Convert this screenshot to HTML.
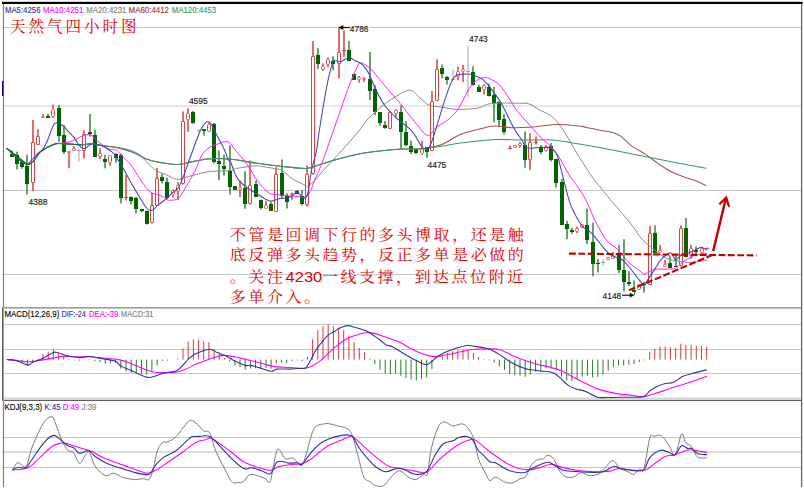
<!DOCTYPE html>
<html><head><meta charset="utf-8"><title>天然气四小时图</title>
<style>html,body{margin:0;padding:0;background:#fff;width:804px;height:489px;overflow:hidden}svg{display:block}</style>
</head><body>
<svg width="804" height="489" viewBox="0 0 804 489"><rect x="0" y="0" width="804" height="489" fill="#fff"/>
<line x1="2" y1="106" x2="801" y2="106" stroke="#cfcfcf" stroke-width="1"/>
<line x1="2" y1="27.5" x2="801" y2="27.5" stroke="#c6c6c6" stroke-width="1"/>
<line x1="2" y1="190.5" x2="801" y2="190.5" stroke="#c6c6c6" stroke-width="1"/>
<line x1="2" y1="274.5" x2="801" y2="274.5" stroke="#c6c6c6" stroke-width="1"/>
<line x1="2" y1="324.5" x2="801" y2="324.5" stroke="#c6c6c6" stroke-width="1"/>
<line x1="2" y1="349.5" x2="801" y2="349.5" stroke="#c6c6c6" stroke-width="1"/>
<line x1="2" y1="373.5" x2="801" y2="373.5" stroke="#c6c6c6" stroke-width="1"/>
<line x1="2" y1="398.3" x2="801" y2="398.3" stroke="#d6d6d6" stroke-width="1.6"/>
<line x1="2" y1="437.5" x2="801" y2="437.5" stroke="#c6c6c6" stroke-width="1"/>
<line x1="2" y1="452" x2="801" y2="452" stroke="#d0d0d0" stroke-width="1.7"/>
<line x1="2" y1="467.5" x2="801" y2="467.5" stroke="#c6c6c6" stroke-width="1"/>
<line x1="2.2" y1="307.8" x2="801.5" y2="307.8" stroke="#808080" stroke-width="1.3"/>
<line x1="2.2" y1="400.3" x2="801.5" y2="400.3" stroke="#5e5e5e" stroke-width="1.3"/>
<line x1="3.5" y1="3" x2="3.5" y2="487" stroke="#808080" stroke-width="1.2"/>
<line x1="801.6" y1="3" x2="801.6" y2="487" stroke="#6a6a6a" stroke-width="1.3"/>
<rect x="2" y="1.8" width="800.5" height="2.2" fill="#000"/>
<rect x="2" y="81" width="1.3" height="15" fill="#000080"/>
<rect x="2" y="307.2" width="1.6" height="93.6" fill="#fff"/>
<line x1="2.7" y1="307.3" x2="2.7" y2="400.8" stroke="#4a4a4a" stroke-width="1.2"/>
<line x1="12" y1="150.4" x2="12" y2="154" stroke="#1c6f1c" stroke-width="1.3"/>
<rect x="10" y="154" width="4" height="3" fill="#006400"/>
<line x1="17" y1="151.7" x2="17" y2="155" stroke="#1c6f1c" stroke-width="1.3"/>
<line x1="17" y1="164" x2="17" y2="169.4" stroke="#1c6f1c" stroke-width="1.3"/>
<rect x="15" y="155" width="4" height="9" fill="#006400"/>
<line x1="22" y1="161.5" x2="22" y2="162" stroke="#1c6f1c" stroke-width="1.3"/>
<line x1="22" y1="167" x2="22" y2="168.8" stroke="#1c6f1c" stroke-width="1.3"/>
<rect x="20" y="162" width="4" height="5" fill="#006400"/>
<line x1="27" y1="154.7" x2="27" y2="166" stroke="#1c6f1c" stroke-width="1.3"/>
<line x1="27" y1="184" x2="27" y2="194.6" stroke="#1c6f1c" stroke-width="1.3"/>
<rect x="25" y="166" width="4" height="18" fill="#006400"/>
<line x1="33" y1="120" x2="33" y2="142" stroke="#d42020" stroke-width="1.3"/>
<line x1="33" y1="183" x2="33" y2="191" stroke="#d42020" stroke-width="1.3"/>
<rect x="31.5" y="142.5" width="3" height="40" rx="0.5" fill="none" stroke="#e04040" stroke-width="1"/>
<line x1="38" y1="129.2" x2="38" y2="136" stroke="#d42020" stroke-width="1.3"/>
<rect x="36.5" y="136.5" width="3" height="8" rx="0.5" fill="none" stroke="#e04040" stroke-width="1"/>
<line x1="43" y1="114.3" x2="43" y2="116" stroke="#d42020" stroke-width="1.3"/>
<rect x="41.5" y="116.5" width="3" height="1" rx="1" fill="none" stroke="#e04040" stroke-width="1"/>
<line x1="48" y1="113.8" x2="48" y2="116" stroke="#1c6f1c" stroke-width="1.3"/>
<rect x="46" y="116" width="4" height="2" fill="#006400"/>
<line x1="53" y1="104.6" x2="53" y2="109" stroke="#d42020" stroke-width="1.3"/>
<line x1="53" y1="117" x2="53" y2="118" stroke="#d42020" stroke-width="1.3"/>
<rect x="51.5" y="109.5" width="3" height="7" rx="1" fill="none" stroke="#e04040" stroke-width="1"/>
<line x1="59" y1="105.1" x2="59" y2="108" stroke="#1c6f1c" stroke-width="1.3"/>
<line x1="59" y1="136" x2="59" y2="142" stroke="#1c6f1c" stroke-width="1.3"/>
<rect x="57" y="108" width="4" height="28" fill="#006400"/>
<line x1="64" y1="125.1" x2="64" y2="135" stroke="#1c6f1c" stroke-width="1.3"/>
<line x1="64" y1="152" x2="64" y2="154" stroke="#1c6f1c" stroke-width="1.3"/>
<rect x="62" y="135" width="4" height="17" fill="#006400"/>
<line x1="69" y1="153" x2="69" y2="168.2" stroke="#d42020" stroke-width="1.3"/>
<rect x="67.5" y="151.5" width="3" height="1" rx="1" fill="none" stroke="#e04040" stroke-width="1"/>
<line x1="74" y1="146.3" x2="74" y2="148" stroke="#d42020" stroke-width="1.3"/>
<rect x="72.5" y="148.5" width="3" height="2" rx="1" fill="none" stroke="#e04040" stroke-width="1"/>
<line x1="79" y1="149" x2="79" y2="161.5" stroke="#a0a0a0" stroke-width="1"/>
<line x1="77" y1="150.5" x2="81" y2="150.5" stroke="#a0a0a0" stroke-width="1"/>
<line x1="84" y1="130.3" x2="84" y2="134" stroke="#d42020" stroke-width="1.3"/>
<line x1="84" y1="151" x2="84" y2="158.4" stroke="#d42020" stroke-width="1.3"/>
<rect x="82.5" y="134.5" width="3" height="16" rx="0.5" fill="none" stroke="#e04040" stroke-width="1"/>
<line x1="90" y1="114" x2="90" y2="132" stroke="#1c6f1c" stroke-width="1.3"/>
<line x1="90" y1="134" x2="90" y2="136.7" stroke="#1c6f1c" stroke-width="1.3"/>
<rect x="88" y="132" width="4" height="2" fill="#006400"/>
<line x1="95" y1="129.4" x2="95" y2="135" stroke="#1c6f1c" stroke-width="1.3"/>
<rect x="93" y="135" width="4" height="22" fill="#006400"/>
<line x1="100" y1="148.3" x2="100" y2="153" stroke="#d42020" stroke-width="1.3"/>
<line x1="100" y1="157" x2="100" y2="159" stroke="#d42020" stroke-width="1.3"/>
<rect x="98.5" y="153.5" width="3" height="3" rx="1" fill="none" stroke="#e04040" stroke-width="1"/>
<line x1="105" y1="154.7" x2="105" y2="159" stroke="#1c6f1c" stroke-width="1.3"/>
<line x1="105" y1="162" x2="105" y2="168.2" stroke="#1c6f1c" stroke-width="1.3"/>
<rect x="103" y="159" width="4" height="3" fill="#006400"/>
<line x1="110" y1="163" x2="110" y2="165.8" stroke="#d42020" stroke-width="1.3"/>
<rect x="108.5" y="155.5" width="3" height="7" rx="1" fill="none" stroke="#e04040" stroke-width="1"/>
<line x1="116" y1="152.9" x2="116" y2="154" stroke="#1c6f1c" stroke-width="1.3"/>
<line x1="116" y1="158" x2="116" y2="162.7" stroke="#1c6f1c" stroke-width="1.3"/>
<rect x="114" y="154" width="4" height="4" fill="#006400"/>
<line x1="121" y1="153.5" x2="121" y2="155" stroke="#1c6f1c" stroke-width="1.3"/>
<line x1="121" y1="198" x2="121" y2="203.4" stroke="#1c6f1c" stroke-width="1.3"/>
<rect x="119" y="155" width="4" height="43" fill="#006400"/>
<line x1="126" y1="174.9" x2="126" y2="197" stroke="#d42020" stroke-width="1.3"/>
<line x1="126" y1="198" x2="126" y2="200.4" stroke="#d42020" stroke-width="1.3"/>
<rect x="124" y="197" width="4" height="1" fill="#e04040"/>
<line x1="131" y1="196.4" x2="131" y2="197" stroke="#1c6f1c" stroke-width="1.3"/>
<line x1="131" y1="201" x2="131" y2="204.4" stroke="#1c6f1c" stroke-width="1.3"/>
<rect x="129" y="197" width="4" height="4" fill="#006400"/>
<line x1="136" y1="197" x2="136" y2="198" stroke="#1c6f1c" stroke-width="1.3"/>
<line x1="136" y1="209" x2="136" y2="213.6" stroke="#1c6f1c" stroke-width="1.3"/>
<rect x="134" y="198" width="4" height="11" fill="#006400"/>
<line x1="142" y1="211" x2="142" y2="212.3" stroke="#1c6f1c" stroke-width="1.3"/>
<rect x="140" y="209" width="4" height="2" fill="#006400"/>
<line x1="147" y1="210.5" x2="147" y2="211" stroke="#1c6f1c" stroke-width="1.3"/>
<line x1="147" y1="224" x2="147" y2="224.6" stroke="#1c6f1c" stroke-width="1.3"/>
<rect x="145" y="211" width="4" height="13" fill="#006400"/>
<line x1="152" y1="192.7" x2="152" y2="205" stroke="#d42020" stroke-width="1.3"/>
<line x1="152" y1="223" x2="152" y2="223.4" stroke="#d42020" stroke-width="1.3"/>
<rect x="150.5" y="205.5" width="3" height="17" rx="0.5" fill="none" stroke="#e04040" stroke-width="1"/>
<line x1="157" y1="168" x2="157" y2="178" stroke="#d42020" stroke-width="1.3"/>
<rect x="155.5" y="178.5" width="3" height="27" rx="0.5" fill="none" stroke="#e04040" stroke-width="1"/>
<line x1="162" y1="173.7" x2="162" y2="177" stroke="#1c6f1c" stroke-width="1.3"/>
<line x1="162" y1="181" x2="162" y2="183.5" stroke="#1c6f1c" stroke-width="1.3"/>
<rect x="160" y="177" width="4" height="4" fill="#006400"/>
<line x1="167" y1="177.4" x2="167" y2="182" stroke="#1c6f1c" stroke-width="1.3"/>
<line x1="167" y1="198" x2="167" y2="198.8" stroke="#1c6f1c" stroke-width="1.3"/>
<rect x="165" y="182" width="4" height="16" fill="#006400"/>
<line x1="173" y1="189.6" x2="173" y2="190" stroke="#d42020" stroke-width="1.3"/>
<line x1="173" y1="195" x2="173" y2="197.6" stroke="#d42020" stroke-width="1.3"/>
<rect x="171.5" y="190.5" width="3" height="4" rx="1" fill="none" stroke="#e04040" stroke-width="1"/>
<line x1="178" y1="182.3" x2="178" y2="185" stroke="#d42020" stroke-width="1.3"/>
<line x1="178" y1="192" x2="178" y2="200.1" stroke="#d42020" stroke-width="1.3"/>
<rect x="176.5" y="185.5" width="3" height="6" rx="1" fill="none" stroke="#e04040" stroke-width="1"/>
<line x1="183" y1="111.5" x2="183" y2="121" stroke="#d42020" stroke-width="1.3"/>
<line x1="183" y1="184" x2="183" y2="184.5" stroke="#d42020" stroke-width="1.3"/>
<rect x="181.5" y="121.5" width="3" height="62" rx="0.5" fill="none" stroke="#e04040" stroke-width="1"/>
<line x1="188" y1="108.2" x2="188" y2="113" stroke="#d42020" stroke-width="1.3"/>
<line x1="188" y1="120" x2="188" y2="131.7" stroke="#d42020" stroke-width="1.3"/>
<rect x="186.5" y="113.5" width="3" height="6" rx="1" fill="none" stroke="#e04040" stroke-width="1"/>
<line x1="193" y1="110.9" x2="193" y2="112" stroke="#1c6f1c" stroke-width="1.3"/>
<line x1="193" y1="123" x2="193" y2="123.7" stroke="#1c6f1c" stroke-width="1.3"/>
<rect x="191" y="112" width="4" height="11" fill="#006400"/>
<line x1="199" y1="129.3" x2="199" y2="132.3" stroke="#a0a0a0" stroke-width="1"/>
<line x1="197" y1="130.5" x2="201" y2="130.5" stroke="#a0a0a0" stroke-width="1"/>
<line x1="204" y1="131" x2="204" y2="135.4" stroke="#1c6f1c" stroke-width="1.3"/>
<rect x="202" y="129" width="4" height="2" fill="#006400"/>
<line x1="209" y1="122.5" x2="209" y2="124" stroke="#d42020" stroke-width="1.3"/>
<rect x="207.5" y="124.5" width="3" height="7" rx="1" fill="none" stroke="#e04040" stroke-width="1"/>
<line x1="214" y1="123.1" x2="214" y2="124" stroke="#1c6f1c" stroke-width="1.3"/>
<line x1="214" y1="162" x2="214" y2="163.3" stroke="#1c6f1c" stroke-width="1.3"/>
<rect x="212" y="124" width="4" height="38" fill="#006400"/>
<line x1="219" y1="150.4" x2="219" y2="161" stroke="#1c6f1c" stroke-width="1.3"/>
<line x1="219" y1="164" x2="219" y2="179.9" stroke="#1c6f1c" stroke-width="1.3"/>
<rect x="217" y="161" width="4" height="3" fill="#006400"/>
<line x1="224" y1="154.7" x2="224" y2="166" stroke="#1c6f1c" stroke-width="1.3"/>
<line x1="224" y1="169" x2="224" y2="175.6" stroke="#1c6f1c" stroke-width="1.3"/>
<rect x="222" y="166" width="4" height="3" fill="#006400"/>
<line x1="230" y1="145.5" x2="230" y2="171" stroke="#1c6f1c" stroke-width="1.3"/>
<line x1="230" y1="187" x2="230" y2="194.6" stroke="#1c6f1c" stroke-width="1.3"/>
<rect x="228" y="171" width="4" height="16" fill="#006400"/>
<rect x="233" y="186" width="4" height="4" fill="#006400"/>
<line x1="240" y1="180.5" x2="240" y2="187" stroke="#d42020" stroke-width="1.3"/>
<line x1="240" y1="190" x2="240" y2="197.1" stroke="#d42020" stroke-width="1.3"/>
<rect x="238.5" y="187.5" width="3" height="2" rx="1" fill="none" stroke="#e04040" stroke-width="1"/>
<line x1="245" y1="171.3" x2="245" y2="188" stroke="#1c6f1c" stroke-width="1.3"/>
<line x1="245" y1="204" x2="245" y2="208.7" stroke="#1c6f1c" stroke-width="1.3"/>
<rect x="243" y="188" width="4" height="16" fill="#006400"/>
<line x1="250" y1="160.5" x2="250" y2="185" stroke="#d42020" stroke-width="1.3"/>
<line x1="250" y1="204" x2="250" y2="204.4" stroke="#d42020" stroke-width="1.3"/>
<rect x="248.5" y="185.5" width="3" height="18" rx="0.5" fill="none" stroke="#e04040" stroke-width="1"/>
<line x1="256" y1="180.4" x2="256" y2="184" stroke="#1c6f1c" stroke-width="1.3"/>
<rect x="254" y="184" width="4" height="13" fill="#006400"/>
<line x1="261" y1="199.5" x2="261" y2="200" stroke="#1c6f1c" stroke-width="1.3"/>
<line x1="261" y1="208" x2="261" y2="209.4" stroke="#1c6f1c" stroke-width="1.3"/>
<rect x="259" y="200" width="4" height="8" fill="#006400"/>
<line x1="266" y1="200.8" x2="266" y2="205" stroke="#d42020" stroke-width="1.3"/>
<rect x="264.5" y="205.5" width="3" height="3" rx="1" fill="none" stroke="#e04040" stroke-width="1"/>
<line x1="271" y1="202" x2="271" y2="204" stroke="#1c6f1c" stroke-width="1.3"/>
<rect x="269" y="204" width="4" height="7" fill="#006400"/>
<line x1="276" y1="166.8" x2="276" y2="174" stroke="#d42020" stroke-width="1.3"/>
<rect x="274.5" y="174.5" width="3" height="37" rx="0.5" fill="none" stroke="#e04040" stroke-width="1"/>
<line x1="282" y1="159.4" x2="282" y2="173" stroke="#1c6f1c" stroke-width="1.3"/>
<line x1="282" y1="196" x2="282" y2="198.9" stroke="#1c6f1c" stroke-width="1.3"/>
<rect x="280" y="173" width="4" height="23" fill="#006400"/>
<line x1="287" y1="193.2" x2="287" y2="196" stroke="#1c6f1c" stroke-width="1.3"/>
<line x1="287" y1="202" x2="287" y2="208.6" stroke="#1c6f1c" stroke-width="1.3"/>
<rect x="285" y="196" width="4" height="6" fill="#006400"/>
<line x1="292" y1="192.6" x2="292" y2="193" stroke="#d42020" stroke-width="1.3"/>
<line x1="292" y1="195" x2="292" y2="199.7" stroke="#d42020" stroke-width="1.3"/>
<rect x="290.5" y="193.5" width="3" height="1" rx="1" fill="none" stroke="#e04040" stroke-width="1"/>
<line x1="297" y1="190" x2="297" y2="191" stroke="#1c6f1c" stroke-width="1.3"/>
<rect x="295" y="191" width="4" height="3" fill="#006400"/>
<line x1="302" y1="190" x2="302" y2="196" stroke="#1c6f1c" stroke-width="1.3"/>
<line x1="302" y1="204" x2="302" y2="205.4" stroke="#1c6f1c" stroke-width="1.3"/>
<rect x="300" y="196" width="4" height="8" fill="#006400"/>
<line x1="307" y1="165.5" x2="307" y2="174" stroke="#d42020" stroke-width="1.3"/>
<line x1="307" y1="205" x2="307" y2="206.6" stroke="#d42020" stroke-width="1.3"/>
<rect x="305.5" y="174.5" width="3" height="30" rx="0.5" fill="none" stroke="#e04040" stroke-width="1"/>
<line x1="313" y1="40.9" x2="313" y2="56" stroke="#d42020" stroke-width="1.3"/>
<line x1="313" y1="174" x2="313" y2="174.5" stroke="#d42020" stroke-width="1.3"/>
<rect x="311.5" y="56.5" width="3" height="117" rx="0.5" fill="none" stroke="#e04040" stroke-width="1"/>
<line x1="318" y1="48.2" x2="318" y2="55" stroke="#1c6f1c" stroke-width="1.3"/>
<line x1="318" y1="64" x2="318" y2="69.1" stroke="#1c6f1c" stroke-width="1.3"/>
<rect x="316" y="55" width="4" height="9" fill="#006400"/>
<line x1="323" y1="63.6" x2="323" y2="66" stroke="#d42020" stroke-width="1.3"/>
<line x1="323" y1="70" x2="323" y2="70.9" stroke="#d42020" stroke-width="1.3"/>
<rect x="321.5" y="66.5" width="3" height="3" rx="1" fill="none" stroke="#e04040" stroke-width="1"/>
<line x1="328" y1="57.4" x2="328" y2="59" stroke="#d42020" stroke-width="1.3"/>
<line x1="328" y1="65" x2="328" y2="67.2" stroke="#d42020" stroke-width="1.3"/>
<rect x="326.5" y="59.5" width="3" height="5" rx="1" fill="none" stroke="#e04040" stroke-width="1"/>
<line x1="333" y1="56.2" x2="333" y2="61" stroke="#1c6f1c" stroke-width="1.3"/>
<line x1="333" y1="64" x2="333" y2="70.3" stroke="#1c6f1c" stroke-width="1.3"/>
<rect x="331" y="61" width="4" height="3" fill="#006400"/>
<line x1="339" y1="27.4" x2="339" y2="52" stroke="#d42020" stroke-width="1.3"/>
<line x1="339" y1="64" x2="339" y2="78.3" stroke="#d42020" stroke-width="1.3"/>
<rect x="337.5" y="52.5" width="3" height="11" rx="0.5" fill="none" stroke="#e04040" stroke-width="1"/>
<line x1="344" y1="30.4" x2="344" y2="50" stroke="#d42020" stroke-width="1.3"/>
<line x1="344" y1="51" x2="344" y2="56.8" stroke="#d42020" stroke-width="1.3"/>
<rect x="342" y="50" width="4" height="1" fill="#e04040"/>
<line x1="349" y1="40.9" x2="349" y2="50" stroke="#1c6f1c" stroke-width="1.3"/>
<rect x="347" y="50" width="4" height="11" fill="#006400"/>
<rect x="352" y="74" width="4" height="6" fill="#006400"/>
<line x1="359" y1="76" x2="359" y2="77" stroke="#d42020" stroke-width="1.3"/>
<line x1="359" y1="80" x2="359" y2="82.7" stroke="#d42020" stroke-width="1.3"/>
<rect x="357.5" y="77.5" width="3" height="2" rx="1" fill="none" stroke="#e04040" stroke-width="1"/>
<line x1="364" y1="77.2" x2="364" y2="78" stroke="#d42020" stroke-width="1.3"/>
<line x1="364" y1="80" x2="364" y2="82.1" stroke="#d42020" stroke-width="1.3"/>
<rect x="362.5" y="78.5" width="3" height="1" rx="1" fill="none" stroke="#e04040" stroke-width="1"/>
<line x1="370" y1="51.9" x2="370" y2="79" stroke="#1c6f1c" stroke-width="1.3"/>
<line x1="370" y1="91" x2="370" y2="99.9" stroke="#1c6f1c" stroke-width="1.3"/>
<rect x="368" y="79" width="4" height="12" fill="#006400"/>
<line x1="375" y1="85.2" x2="375" y2="89" stroke="#1c6f1c" stroke-width="1.3"/>
<line x1="375" y1="112" x2="375" y2="115.3" stroke="#1c6f1c" stroke-width="1.3"/>
<rect x="373" y="89" width="4" height="23" fill="#006400"/>
<line x1="380" y1="123" x2="380" y2="125.8" stroke="#1c6f1c" stroke-width="1.3"/>
<rect x="378" y="112" width="4" height="11" fill="#006400"/>
<line x1="385" y1="120.9" x2="385" y2="125" stroke="#1c6f1c" stroke-width="1.3"/>
<line x1="385" y1="128" x2="385" y2="128.8" stroke="#1c6f1c" stroke-width="1.3"/>
<rect x="383" y="125" width="4" height="3" fill="#006400"/>
<line x1="390" y1="111" x2="390" y2="112" stroke="#d42020" stroke-width="1.3"/>
<rect x="388.5" y="112.5" width="3" height="16" rx="0.5" fill="none" stroke="#e04040" stroke-width="1"/>
<line x1="396" y1="109.2" x2="396" y2="110" stroke="#d42020" stroke-width="1.3"/>
<line x1="396" y1="114" x2="396" y2="117.2" stroke="#d42020" stroke-width="1.3"/>
<rect x="394.5" y="110.5" width="3" height="3" rx="1" fill="none" stroke="#e04040" stroke-width="1"/>
<line x1="401" y1="105.5" x2="401" y2="112" stroke="#1c6f1c" stroke-width="1.3"/>
<line x1="401" y1="132" x2="401" y2="148.5" stroke="#1c6f1c" stroke-width="1.3"/>
<rect x="399" y="112" width="4" height="20" fill="#006400"/>
<line x1="406" y1="120.9" x2="406" y2="132" stroke="#1c6f1c" stroke-width="1.3"/>
<line x1="406" y1="145" x2="406" y2="146.6" stroke="#1c6f1c" stroke-width="1.3"/>
<rect x="404" y="132" width="4" height="13" fill="#006400"/>
<line x1="411" y1="140.5" x2="411" y2="146" stroke="#1c6f1c" stroke-width="1.3"/>
<line x1="411" y1="152" x2="411" y2="154" stroke="#1c6f1c" stroke-width="1.3"/>
<rect x="409" y="146" width="4" height="6" fill="#006400"/>
<line x1="416" y1="148.5" x2="416" y2="149" stroke="#1c6f1c" stroke-width="1.3"/>
<line x1="416" y1="153" x2="416" y2="154" stroke="#1c6f1c" stroke-width="1.3"/>
<rect x="414" y="149" width="4" height="4" fill="#006400"/>
<line x1="422" y1="140.5" x2="422" y2="148" stroke="#d42020" stroke-width="1.3"/>
<line x1="422" y1="154" x2="422" y2="154.6" stroke="#d42020" stroke-width="1.3"/>
<rect x="420.5" y="148.5" width="3" height="5" rx="1" fill="none" stroke="#e04040" stroke-width="1"/>
<line x1="427" y1="152" x2="427" y2="157.7" stroke="#1c6f1c" stroke-width="1.3"/>
<rect x="425" y="147" width="4" height="5" fill="#006400"/>
<line x1="432" y1="91" x2="432" y2="101" stroke="#d42020" stroke-width="1.3"/>
<rect x="430.5" y="101.5" width="3" height="49" rx="0.5" fill="none" stroke="#e04040" stroke-width="1"/>
<line x1="437" y1="59.2" x2="437" y2="69" stroke="#d42020" stroke-width="1.3"/>
<rect x="435.5" y="69.5" width="3" height="31" rx="0.5" fill="none" stroke="#e04040" stroke-width="1"/>
<line x1="442" y1="64.4" x2="442" y2="68" stroke="#1c6f1c" stroke-width="1.3"/>
<line x1="442" y1="74" x2="442" y2="78.5" stroke="#1c6f1c" stroke-width="1.3"/>
<rect x="440" y="68" width="4" height="6" fill="#006400"/>
<line x1="447" y1="76" x2="447" y2="77" stroke="#1c6f1c" stroke-width="1.3"/>
<line x1="447" y1="80" x2="447" y2="84.6" stroke="#1c6f1c" stroke-width="1.3"/>
<rect x="445" y="77" width="4" height="3" fill="#006400"/>
<line x1="453" y1="69.3" x2="453" y2="79.4" stroke="#a0a0a0" stroke-width="1"/>
<line x1="451" y1="79.5" x2="455" y2="79.5" stroke="#a0a0a0" stroke-width="1"/>
<line x1="458" y1="66.8" x2="458" y2="71" stroke="#d42020" stroke-width="1.3"/>
<line x1="458" y1="77" x2="458" y2="80.3" stroke="#d42020" stroke-width="1.3"/>
<rect x="456.5" y="71.5" width="3" height="5" rx="1" fill="none" stroke="#e04040" stroke-width="1"/>
<line x1="463" y1="65" x2="463" y2="69" stroke="#d42020" stroke-width="1.3"/>
<line x1="463" y1="72" x2="463" y2="82.1" stroke="#d42020" stroke-width="1.3"/>
<rect x="461.5" y="69.5" width="3" height="2" rx="1" fill="none" stroke="#e04040" stroke-width="1"/>
<line x1="468" y1="46" x2="468" y2="96.8" stroke="#a0a0a0" stroke-width="1"/>
<line x1="466" y1="71.5" x2="470" y2="71.5" stroke="#a0a0a0" stroke-width="1"/>
<line x1="473" y1="66.2" x2="473" y2="72" stroke="#1c6f1c" stroke-width="1.3"/>
<line x1="473" y1="85" x2="473" y2="85.8" stroke="#1c6f1c" stroke-width="1.3"/>
<rect x="471" y="72" width="4" height="13" fill="#006400"/>
<line x1="479" y1="84.8" x2="479" y2="87" stroke="#1c6f1c" stroke-width="1.3"/>
<rect x="477" y="87" width="4" height="5" fill="#006400"/>
<line x1="484" y1="84.2" x2="484" y2="85" stroke="#d42020" stroke-width="1.3"/>
<line x1="484" y1="90" x2="484" y2="94.6" stroke="#d42020" stroke-width="1.3"/>
<rect x="482.5" y="85.5" width="3" height="4" rx="1" fill="none" stroke="#e04040" stroke-width="1"/>
<line x1="489" y1="83.6" x2="489" y2="87" stroke="#1c6f1c" stroke-width="1.3"/>
<line x1="489" y1="96" x2="489" y2="96.5" stroke="#1c6f1c" stroke-width="1.3"/>
<rect x="487" y="87" width="4" height="9" fill="#006400"/>
<line x1="494" y1="86.7" x2="494" y2="95" stroke="#1c6f1c" stroke-width="1.3"/>
<line x1="494" y1="103" x2="494" y2="122.2" stroke="#1c6f1c" stroke-width="1.3"/>
<rect x="492" y="95" width="4" height="8" fill="#006400"/>
<line x1="499" y1="101.4" x2="499" y2="102" stroke="#1c6f1c" stroke-width="1.3"/>
<line x1="499" y1="120" x2="499" y2="127.2" stroke="#1c6f1c" stroke-width="1.3"/>
<rect x="497" y="102" width="4" height="18" fill="#006400"/>
<line x1="504" y1="114.3" x2="504" y2="119" stroke="#1c6f1c" stroke-width="1.3"/>
<line x1="504" y1="132" x2="504" y2="134.5" stroke="#1c6f1c" stroke-width="1.3"/>
<rect x="502" y="119" width="4" height="13" fill="#006400"/>
<line x1="510" y1="145.6" x2="510" y2="148" stroke="#d42020" stroke-width="1.3"/>
<line x1="510" y1="149" x2="510" y2="149.4" stroke="#d42020" stroke-width="1.3"/>
<rect x="508" y="148" width="4" height="1" fill="#e04040"/>
<rect x="513.5" y="145.5" width="3" height="2" rx="1" fill="none" stroke="#e04040" stroke-width="1"/>
<line x1="520" y1="142" x2="520" y2="143" stroke="#d42020" stroke-width="1.3"/>
<line x1="520" y1="146" x2="520" y2="147.6" stroke="#d42020" stroke-width="1.3"/>
<rect x="518.5" y="143.5" width="3" height="2" rx="1" fill="none" stroke="#e04040" stroke-width="1"/>
<line x1="525" y1="131.5" x2="525" y2="145" stroke="#1c6f1c" stroke-width="1.3"/>
<line x1="525" y1="160" x2="525" y2="167.7" stroke="#1c6f1c" stroke-width="1.3"/>
<rect x="523" y="145" width="4" height="15" fill="#006400"/>
<line x1="530" y1="133.3" x2="530" y2="142" stroke="#d42020" stroke-width="1.3"/>
<line x1="530" y1="160" x2="530" y2="170" stroke="#d42020" stroke-width="1.3"/>
<rect x="528.5" y="142.5" width="3" height="17" rx="0.5" fill="none" stroke="#e04040" stroke-width="1"/>
<line x1="536" y1="136.4" x2="536" y2="142" stroke="#d42020" stroke-width="1.3"/>
<line x1="536" y1="143" x2="536" y2="144.4" stroke="#d42020" stroke-width="1.3"/>
<rect x="534" y="142" width="4" height="1" fill="#e04040"/>
<line x1="541" y1="145" x2="541" y2="147" stroke="#1c6f1c" stroke-width="1.3"/>
<line x1="541" y1="152" x2="541" y2="154.2" stroke="#1c6f1c" stroke-width="1.3"/>
<rect x="539" y="147" width="4" height="5" fill="#006400"/>
<line x1="546" y1="145" x2="546" y2="146" stroke="#d42020" stroke-width="1.3"/>
<line x1="546" y1="151" x2="546" y2="151.5" stroke="#d42020" stroke-width="1.3"/>
<rect x="544.5" y="146.5" width="3" height="4" rx="1" fill="none" stroke="#e04040" stroke-width="1"/>
<line x1="551" y1="143.1" x2="551" y2="146" stroke="#1c6f1c" stroke-width="1.3"/>
<line x1="551" y1="160" x2="551" y2="161.6" stroke="#1c6f1c" stroke-width="1.3"/>
<rect x="549" y="146" width="4" height="14" fill="#006400"/>
<line x1="556" y1="183" x2="556" y2="187.5" stroke="#1c6f1c" stroke-width="1.3"/>
<rect x="554" y="159" width="4" height="24" fill="#006400"/>
<line x1="562" y1="178.9" x2="562" y2="182" stroke="#1c6f1c" stroke-width="1.3"/>
<rect x="560" y="182" width="4" height="43" fill="#006400"/>
<line x1="567" y1="220.9" x2="567" y2="224" stroke="#1c6f1c" stroke-width="1.3"/>
<line x1="567" y1="229" x2="567" y2="239.3" stroke="#1c6f1c" stroke-width="1.3"/>
<rect x="565" y="224" width="4" height="5" fill="#006400"/>
<line x1="572" y1="228" x2="572" y2="230" stroke="#1c6f1c" stroke-width="1.3"/>
<line x1="572" y1="232" x2="572" y2="233.7" stroke="#1c6f1c" stroke-width="1.3"/>
<rect x="570" y="230" width="4" height="2" fill="#006400"/>
<line x1="577" y1="226.4" x2="577" y2="228" stroke="#d42020" stroke-width="1.3"/>
<line x1="577" y1="232" x2="577" y2="233.1" stroke="#d42020" stroke-width="1.3"/>
<rect x="575.5" y="228.5" width="3" height="3" rx="1" fill="none" stroke="#e04040" stroke-width="1"/>
<rect x="580.5" y="224.5" width="3" height="3" rx="1" fill="none" stroke="#e04040" stroke-width="1"/>
<line x1="587" y1="208.6" x2="587" y2="225" stroke="#1c6f1c" stroke-width="1.3"/>
<line x1="587" y1="240" x2="587" y2="244.2" stroke="#1c6f1c" stroke-width="1.3"/>
<rect x="585" y="225" width="4" height="15" fill="#006400"/>
<line x1="593" y1="222.7" x2="593" y2="242" stroke="#1c6f1c" stroke-width="1.3"/>
<line x1="593" y1="264" x2="593" y2="276.2" stroke="#1c6f1c" stroke-width="1.3"/>
<rect x="591" y="242" width="4" height="22" fill="#006400"/>
<line x1="598" y1="259" x2="598" y2="263" stroke="#1c6f1c" stroke-width="1.3"/>
<line x1="598" y1="264" x2="598" y2="272.5" stroke="#1c6f1c" stroke-width="1.3"/>
<rect x="596" y="263" width="4" height="1" fill="#006400"/>
<line x1="603" y1="259" x2="603" y2="265.8" stroke="#a0a0a0" stroke-width="1"/>
<line x1="601" y1="262.5" x2="605" y2="262.5" stroke="#a0a0a0" stroke-width="1"/>
<rect x="606.5" y="257.5" width="3" height="2" rx="1" fill="none" stroke="#e04040" stroke-width="1"/>
<line x1="613" y1="252.3" x2="613" y2="255" stroke="#d42020" stroke-width="1.3"/>
<rect x="611.5" y="255.5" width="3" height="3" rx="1" fill="none" stroke="#e04040" stroke-width="1"/>
<line x1="619" y1="244.9" x2="619" y2="254" stroke="#1c6f1c" stroke-width="1.3"/>
<line x1="619" y1="270" x2="619" y2="273.1" stroke="#1c6f1c" stroke-width="1.3"/>
<rect x="617" y="254" width="4" height="16" fill="#006400"/>
<line x1="624" y1="239.3" x2="624" y2="270" stroke="#1c6f1c" stroke-width="1.3"/>
<line x1="624" y1="282" x2="624" y2="291.5" stroke="#1c6f1c" stroke-width="1.3"/>
<rect x="622" y="270" width="4" height="12" fill="#006400"/>
<line x1="629" y1="271.3" x2="629" y2="282" stroke="#1c6f1c" stroke-width="1.3"/>
<line x1="629" y1="284" x2="629" y2="286" stroke="#1c6f1c" stroke-width="1.3"/>
<rect x="627" y="282" width="4" height="2" fill="#006400"/>
<line x1="634" y1="280.5" x2="634" y2="290" stroke="#1c6f1c" stroke-width="1.3"/>
<rect x="632" y="290" width="4" height="2" fill="#006400"/>
<rect x="637.5" y="284.5" width="3" height="5" rx="1" fill="none" stroke="#e04040" stroke-width="1"/>
<line x1="644" y1="281.7" x2="644" y2="284" stroke="#1c6f1c" stroke-width="1.3"/>
<line x1="644" y1="285" x2="644" y2="292.8" stroke="#1c6f1c" stroke-width="1.3"/>
<rect x="642" y="284" width="4" height="1" fill="#006400"/>
<line x1="650" y1="226" x2="650" y2="233" stroke="#d42020" stroke-width="1.3"/>
<rect x="648.5" y="233.5" width="3" height="51" rx="0.5" fill="none" stroke="#e04040" stroke-width="1"/>
<line x1="655" y1="225.3" x2="655" y2="233" stroke="#1c6f1c" stroke-width="1.3"/>
<rect x="653" y="233" width="4" height="20" fill="#006400"/>
<line x1="660" y1="245" x2="660" y2="250" stroke="#d42020" stroke-width="1.3"/>
<rect x="658.5" y="250.5" width="3" height="2" rx="1" fill="none" stroke="#e04040" stroke-width="1"/>
<line x1="665" y1="259.7" x2="665" y2="264" stroke="#d42020" stroke-width="1.3"/>
<rect x="663.5" y="264.5" width="3" height="2" rx="1" fill="none" stroke="#e04040" stroke-width="1"/>
<line x1="670" y1="255.4" x2="670" y2="263" stroke="#1c6f1c" stroke-width="1.3"/>
<rect x="668" y="263" width="4" height="5" fill="#006400"/>
<line x1="676" y1="255.4" x2="676" y2="266" stroke="#1c6f1c" stroke-width="1.3"/>
<rect x="674" y="266" width="4" height="1" fill="#006400"/>
<line x1="681" y1="225.3" x2="681" y2="228" stroke="#d42020" stroke-width="1.3"/>
<line x1="681" y1="266" x2="681" y2="266.5" stroke="#d42020" stroke-width="1.3"/>
<rect x="679.5" y="228.5" width="3" height="37" rx="0.5" fill="none" stroke="#e04040" stroke-width="1"/>
<line x1="686" y1="218" x2="686" y2="228" stroke="#1c6f1c" stroke-width="1.3"/>
<line x1="686" y1="257" x2="686" y2="257.5" stroke="#1c6f1c" stroke-width="1.3"/>
<rect x="684" y="228" width="4" height="29" fill="#006400"/>
<line x1="691" y1="244.7" x2="691" y2="248" stroke="#d42020" stroke-width="1.3"/>
<line x1="691" y1="256" x2="691" y2="259" stroke="#d42020" stroke-width="1.3"/>
<rect x="689.5" y="248.5" width="3" height="7" rx="1" fill="none" stroke="#e04040" stroke-width="1"/>
<line x1="696" y1="246.2" x2="696" y2="250" stroke="#1c6f1c" stroke-width="1.3"/>
<line x1="696" y1="252" x2="696" y2="256.2" stroke="#1c6f1c" stroke-width="1.3"/>
<rect x="694" y="250" width="4" height="2" fill="#006400"/>
<line x1="702" y1="246.8" x2="702" y2="248" stroke="#d42020" stroke-width="1.3"/>
<rect x="700.5" y="248.5" width="3" height="4" rx="1" fill="none" stroke="#e04040" stroke-width="1"/>
<line x1="707" y1="247.6" x2="707" y2="248" stroke="#d42020" stroke-width="1.3"/>
<rect x="705" y="248" width="4" height="1" fill="#e04040"/>
<path d="M6.7,148.3 C10.2,151 22,164 27.7,164.5 C33.4,165 36.5,154.8 40.9,151.4 C45.3,148 50.8,145.5 54.2,144.2 C57.6,142.9 56.8,143.5 61.4,143.6 C66,143.7 77,144.8 81.8,144.8 C86.6,144.8 86.6,143.7 90,143.8 C93.4,144 97.9,145.1 102.3,145.7 C106.7,146.3 111.9,146.7 116.4,147.4 C120.9,148.1 125.7,148.6 129.5,149.8 C133.3,151 136.3,152.5 139.3,154.7 C142.3,156.9 144.8,160.3 147.5,162.9 C150.2,165.5 152.6,168.4 155.6,170.3 C158.6,172.2 161.9,172.9 165.5,174.4 C169.1,175.9 173.6,178.8 176.9,179.3 C180.2,179.8 182.4,178.3 185.1,177.6 C187.8,176.9 189.2,176.2 193.3,175.2 C197.4,174.2 203.4,172.4 209.5,171.6 C215.6,170.8 225.4,171.1 230,170.6 C234.6,170.1 232.7,169.2 236.8,168.4 C240.9,167.6 250.4,166.2 254.5,165.9 C258.6,165.6 258.1,166 261.3,166.4 C264.5,166.8 270.2,167.7 273.6,168.4 C277,169.1 278.7,168.7 281.8,170.4 C284.9,172.1 289,176.5 292,178.6 C295,180.7 297.6,181.6 300,182.8 C302.4,184 304.9,185.3 306.3,185.8 C307.7,186.3 306.8,186.8 308.2,185.9 C309.6,185.1 312.2,183 314.5,180.7 C316.8,178.4 318.8,175.6 322,172 C325.2,168.4 329.3,164.1 334,158.9 C338.7,153.7 346.1,145.8 350.4,140.9 C354.7,136 357.2,132.9 360,129.4 C362.8,125.9 363.5,123.7 367,120 C370.5,116.3 376.3,110.8 381,107 C385.7,103.2 390.2,99.8 395,97 C399.8,94.2 405.8,90 410,90.2 C414.2,90.4 416.8,95.5 420,98 C423.2,100.5 425.1,103.5 429,105 C432.9,106.5 438.5,106.6 443.1,107.3 C447.7,108 450.8,109.1 456.4,109.3 C462,109.5 471,109.2 476.8,108.3 C482.6,107.3 483.9,104.4 491.1,103.6 C498.3,102.8 513.3,103.1 519.8,103.2 C526.3,103.3 526.9,103.2 530,104.2 C533.1,105.2 534.8,107.4 538.2,109.3 C541.6,111.2 547,113 550.4,115.4 C553.8,117.8 555.9,120.2 558.6,123.6 C561.3,127 564.1,131.5 566.8,135.9 C569.5,140.3 572.6,145.9 575,150 C577.4,154.1 578.2,155.6 581.3,160.4 C584.4,165.2 590.2,174.1 593.6,178.9 C597,183.7 599.1,185.7 601.8,189.1 C604.5,192.5 606.6,195.2 610,199.3 C613.4,203.4 618.5,209.2 622.3,213.6 C626,218 629.2,221.7 632.5,225.9 C635.8,230.1 637.9,234.7 641.8,238.9 C645.7,243.1 652,248 656.1,251.2 C660.2,254.4 662.5,256.6 666.3,258.3 C670,260 674.5,260.6 678.6,261.3 C682.7,262 686.1,262.6 690.9,262.4 C695.7,262.2 704.5,260.6 707.2,260.3" fill="none" stroke="#8a8a8a" stroke-width="1.0" stroke-linejoin="round"/>
<path d="M6.7,148.3 C10.2,151 22,164 27.7,164.5 C33.4,165 36.5,154.8 40.9,151.4 C45.3,148 50.8,145.5 54.2,144.2 C57.6,142.9 56.8,143.5 61.4,143.6 C66,143.7 77,144.8 81.8,144.8 C86.6,144.8 86.6,143.7 90,143.8 C93.4,144 97.9,145.1 102.3,145.7 C106.7,146.3 111.3,146.3 116.4,147.4 C121.5,148.5 127.8,150.4 132.7,152.3 C137.6,154.2 141.7,157.2 145.8,158.8 C149.9,160.4 153.5,161.3 157.3,162.1 C161.1,162.9 165.3,163.3 168.7,163.7 C172.1,164.1 174.7,164.6 177.7,164.5 C180.7,164.4 181.7,163.8 186.7,162.9 C191.7,162 200.2,159.5 207.5,158.9 C214.8,158.3 222.4,158.5 230.7,159.2 C239,159.9 248.8,162.1 257.3,163.3 C265.8,164.5 273.6,165.6 281.8,166.4 C290,167.2 299.9,168.7 306.3,168.4 C312.7,168.1 314.2,166.1 320,164.4 C325.8,162.7 334,160.1 340.9,158.3 C347.8,156.5 354.5,154.9 361.3,153.6 C368.1,152.3 375,151.4 381.8,150.7 C388.6,149.9 395.5,149.4 402.3,149.1 C409.1,148.8 418.1,149 422.7,148.7 C427.3,148.4 426.6,148.3 430,147.5 C433.4,146.7 438,146.2 443.1,144 C448.2,141.8 454.1,137.1 460.4,134.5 C466.7,131.9 475.1,130.1 480.9,128.7 C486.7,127.3 490.1,126.3 495.2,126.1 C500.3,125.9 506.1,127.5 511.6,127.7 C517.1,127.9 520.5,127.8 528,127.3 C535.5,126.8 548.1,124.8 556.6,124.6 C565.1,124.4 574.1,125.6 579.1,126.1 C584.1,126.6 583.1,126.7 586.6,127.4 C590.1,128.1 595.4,129.3 600,130.2 C604.6,131.1 610.7,131.8 614.2,132.9 C617.8,134 618.4,134.4 621.3,136.6 C624.2,138.8 627.5,142.8 631.6,145.8 C635.7,148.8 641.5,151.6 645.9,154.6 C650.3,157.6 654.1,160.8 658.2,163.6 C662.3,166.4 666.3,169.2 670.4,171.3 C674.5,173.5 678.6,174.9 682.7,176.5 C686.8,178.1 691.1,179.1 695,180.6 C698.9,182.1 704.3,184.8 706.2,185.7" fill="none" stroke="#a4544c" stroke-width="1.05" stroke-linejoin="round"/>
<path d="M6.7,148.3 C10.2,151 22,164 27.7,164.5 C33.4,165 36.5,154.8 40.9,151.4 C45.3,148 50.8,145.5 54.2,144.2 C57.6,142.9 56.8,143.5 61.4,143.6 C66,143.7 77,144.8 81.8,144.8 C86.6,144.8 86.6,143.7 90,143.8 C93.4,144 97.9,145.1 102.3,145.7 C106.7,146.3 111.3,146.3 116.4,147.4 C121.5,148.5 127.8,150.4 132.7,152.3 C137.6,154.2 141.7,157.2 145.8,158.8 C149.9,160.4 153.5,161.3 157.3,162.1 C161.1,162.9 165.3,163.3 168.7,163.7 C172.1,164.1 174.7,164.6 177.7,164.5 C180.7,164.4 181.7,163.8 186.7,162.9 C191.7,162 200.2,159.5 207.5,158.9 C214.8,158.3 222.4,158.5 230.7,159.2 C239,159.9 248.8,162.1 257.3,163.3 C265.8,164.5 273.6,165.6 281.8,166.4 C290,167.2 299.9,168.7 306.3,168.4 C312.7,168.1 314.2,166.1 320,164.4 C325.8,162.7 334,160.1 340.9,158.3 C347.8,156.5 354.5,154.9 361.3,153.6 C368.1,152.3 375,151.4 381.8,150.7 C388.6,149.9 395.5,149.4 402.3,149.1 C409.1,148.8 415.9,149.2 422.7,148.7 C429.5,148.2 436.8,146.9 443.1,146 C449.4,145.1 451.7,144.1 460.4,143 C469.1,141.9 485,140.1 495.2,139.6 C505.4,139.1 512.2,139.9 521.8,140 C531.3,140.1 544,139.5 552.5,140 C561,140.5 564.9,141.7 573,143 C581.1,144.3 588.1,145.4 600.9,147.8 C613.7,150.2 636.7,154.9 650,157.5 C663.3,160.1 671.3,161.8 680.7,163.6 C690.1,165.4 702,167.5 706.3,168.3" fill="none" stroke="#36976a" stroke-width="1.05" stroke-linejoin="round"/>
<path d="M6.7,148.3 L17,156.3 L27.6,164.6" fill="none" stroke="#1f4a32" stroke-width="1.15"/>
<path d="M6.7,148.3 C10.2,151 22,164 27.7,164.5 C33.4,165 36.5,154.8 40.9,151.4 C45.3,148 50.8,145.5 54.2,144.2 C57.6,142.9 56.8,143.5 61.4,143.6 C66,143.7 78.4,144.6 81.8,144.8" fill="none" stroke="#2a6a44" stroke-width="1.1"/>
<path d="M58.3,143.6 C59.6,143.4 63.7,142.9 66,142.5 C68.3,142.1 70.2,141.8 72.3,141 C74.4,140.2 76.6,138.9 78.4,138 C80.2,137.1 81.7,136.1 83.3,135.5 C84.9,134.9 86.8,134.5 88.2,134.5 C89.6,134.5 90.5,134.5 91.9,135.5 C93.3,136.5 95.2,138.9 96.8,140.4 C98.4,141.9 100,142.9 101.8,144.3 C103.6,145.7 105.4,147.7 107.4,148.6 C109.4,149.5 112.1,149.3 113.7,149.6 C115.3,149.9 115.6,149.6 116.8,150.5 C118,151.4 119.5,153.3 121.1,154.9 C122.6,156.5 124.4,158.2 126.1,159.9 C127.8,161.6 129.2,162.3 131.1,164.9 C133,167.5 135.1,171.8 137.6,175.5 C140.1,179.2 143.5,184.3 145.9,187.2 C148.3,190.1 149.5,191.6 151.9,193 C154.3,194.4 158.1,194.5 160.6,195.6 C163.1,196.7 165.2,198.9 167.1,199.7 C169,200.5 170.2,200.3 172,200.2 C173.8,200.1 176.1,199.9 177.7,198.9 C179.3,197.9 180,196.7 181.8,194 C183.6,191.3 186.2,186.4 188.4,182.6 C190.6,178.8 192.7,175.5 194.9,171.1 C197.1,166.7 199.2,159.8 201.4,156 C203.6,152.2 205.3,150.5 208,148.5 C210.7,146.5 214.4,145.1 217.7,144 C221,142.9 224.9,140.7 228,141.9 C231.1,143.1 232.9,147.4 236.1,151.1 C239.3,154.8 243.5,159.4 247,164.3 C250.5,169.2 254.2,176.4 257.3,180.7 C260.4,185 263,187.7 265.4,189.9 C267.8,192.1 268.9,193.2 271.6,194 C274.3,194.8 278.7,194.7 281.8,195 C284.9,195.3 287.3,195.7 290,196 C292.7,196.3 295.8,196.4 298.2,196.6 C300.6,196.8 302.4,197.7 304.3,197.1 C306.2,196.5 307.7,195.7 309.4,193 C311.1,190.3 312.6,185.1 314.5,180.7 C316.4,176.3 317.7,174.4 320.7,166.4 C323.7,158.4 328.8,143.8 332.7,132.7 C336.6,121.6 341.1,108.2 344,100 C346.9,91.8 347.9,88.7 350.1,83.2 C352.3,77.7 355.6,70.2 357.3,66.8 C359,63.4 358.3,62.5 360.3,62.7 C362.3,62.9 366.6,65.4 369.5,67.8 C372.4,70.2 374.6,73.4 377.7,77 C380.8,80.6 384.1,84.9 387.9,89.3 C391.6,93.7 396.7,99.4 400.2,103.6 C403.7,107.8 405.9,110.8 409,114.7 C412.1,118.6 416.4,123.9 418.9,127 C421.4,130.1 422.4,131.7 423.8,133.1 C425.2,134.5 426.5,135.2 427.5,135.4 C428.5,135.7 428.5,135.9 430,134.6 C431.5,133.3 433.9,129.6 436.3,127.5 C438.7,125.4 442.1,123.8 444.5,122.1 C446.9,120.4 448.6,119.7 451,117.2 C453.4,114.8 456.2,112.2 459.2,107.4 C462.2,102.6 466.2,93 469,88.6 C471.8,84.2 473.7,82.8 476,81 C478.3,79.2 480.8,78 483,77.6 C485.2,77.2 486.4,77.4 489.1,78.6 C491.8,79.8 495.9,81.4 499.3,84.8 C502.7,88.2 506.8,94.9 509.6,99.1 C512.5,103.3 512.9,105.5 516.4,110 C519.9,114.5 526.3,121.3 530.5,126 C534.7,130.7 538.2,134.9 541.5,138.2 C544.8,141.5 547.2,142.5 550.1,145.6 C553,148.7 555.5,151.7 558.7,156.6 C561.9,161.5 565.7,169.4 569.1,174.8 C572.5,180.2 576.2,184.3 579.3,189.1 C582.4,193.9 584.8,197.9 587.5,203.4 C590.2,208.9 592.5,215.6 595.7,221.8 C599,228.1 603.4,236.4 607,240.9 C610.6,245.4 613.9,245.7 617.3,249.1 C620.7,252.5 624.9,258.5 627.5,261.3 C630.1,264.1 631,264.4 633,266 C635,267.6 637.7,269.5 639.6,270.8 C641.5,272.1 642.8,273.7 644.2,274 C645.6,274.3 646.4,273.3 647.9,272.6 C649.4,271.9 651.5,270.3 653.4,269.7 C655.2,269.1 656.7,269.2 659,269.1 C661.3,269 664.8,269.2 667.2,269.1 C669.7,269.1 672,269.1 673.7,268.8 C675.4,268.5 676.2,268 677.4,267.1 C678.6,266.2 679.7,264.5 681,263.4 C682.3,262.3 683,261.9 685,260.7 C687,259.5 689.9,257.4 692.9,256.2 C695.9,255 700.7,254.1 703.1,253.6 C705.5,253.1 706.5,253.3 707.2,253.2" fill="none" stroke="#ff1cff" stroke-width="1.0" stroke-linejoin="round"/>
<path d="M27.6,164.7 C29,163.1 33.7,157.5 36.1,155 C38.5,152.5 40.4,152.3 42.3,149.9 C44.2,147.5 46,143.6 47.4,140.7 C48.8,137.8 49.4,135.1 50.4,132.5 C51.4,129.9 52.5,126.9 53.5,125.3 C54.5,123.7 55.1,123 56.1,122.8 C57.1,122.5 58.4,123.2 59.7,123.8 C61,124.4 62.2,125 63.7,126.4 C65.2,127.8 67.2,130.1 68.9,132 C70.6,133.9 72.5,135.7 74,137.6 C75.5,139.5 76.8,142 78.1,143.7 C79.3,145.4 80.4,146.8 81.5,147.6 C82.6,148.4 83.5,148.6 84.5,148.4 C85.5,148.2 86.6,147.2 87.6,146.5 C88.6,145.8 89.4,144.4 90.7,144.1 C92,143.8 93.8,144.5 95.6,144.7 C97.3,144.9 99.2,144.5 101.2,145.2 C103.2,145.9 105.3,147.3 107.4,148.7 C109.5,150.1 112.4,152.2 113.7,153.5 C115,154.8 114.4,154.9 115.3,156.3 C116.2,157.7 118,159.9 119.3,162 C120.6,164.1 122,166.3 123.3,168.6 C124.6,170.9 126,173.5 127.3,175.9 C128.6,178.3 130,180.9 131.3,183.2 C132.6,185.5 134,187.7 135.3,189.9 C136.6,192.1 138,194.3 139.3,196.5 C140.6,198.7 141.9,201.2 143.2,203.2 C144.5,205.2 146,207.3 147.2,208.5 C148.4,209.7 149.5,210.4 150.6,210.5 C151.7,210.6 152.7,210.1 153.9,209.2 C155.1,208.3 155.7,207 157.9,205.2 C160.1,203.3 164.8,200.1 167.1,198.1 C169.4,196.1 170.1,195 172,193.2 C173.9,191.4 176.7,190.4 178.6,187.5 C180.5,184.6 181.6,180.9 183.5,176 C185.4,171.1 187.8,164 190,158 C192.2,152 194.7,144.9 196.6,140 C198.5,135.1 199.8,131.6 201.4,128.6 C203.1,125.6 205,122.8 206.5,121.9 C208,121.1 208.7,121 210.6,123.5 C212.5,126 215.4,132.4 217.7,136.8 C220,141.2 222.8,146.2 224.5,150 C226.2,153.8 227,157.2 228,159.3 C229,161.4 229.4,159.6 230.7,162.3 C232,165 234.1,172.2 235.8,175.6 C237.5,179 238.7,180.5 240.9,182.7 C243.1,184.9 246.4,187 249.1,188.9 C251.8,190.8 254.6,192.3 257.3,194 C260,195.7 263,197.9 265.4,199.1 C267.8,200.3 269.2,201.2 271.6,201.1 C274,201 277.1,199 279.8,198.5 C282.5,198 285.7,198.7 287.9,198.1 C290.1,197.5 291.5,196 293,195 C294.5,194 295.7,191.7 297.1,191.9 C298.5,192.1 299.8,195 301.2,196 C302.6,197 304.1,198.9 305.3,198.1 C306.5,197.2 307.4,195.5 308.4,190.9 C309.4,186.3 310.2,177 311.5,170.4 C312.8,163.8 315.1,157.8 316.4,151.1 C317.7,144.4 317.7,140.6 319.4,130 C321.1,119.4 324.4,98.5 326.6,87.3 C328.8,76.1 331.2,67.1 332.7,62.7 C334.2,58.3 334.4,60.9 335.8,60.7 C337.2,60.5 338.7,62.2 340.9,61.7 C343.1,61.2 346.7,57.8 349.1,57.6 C351.5,57.4 353.2,59.7 355.2,60.7 C357.2,61.7 359.1,61.7 361.3,63.7 C363.5,65.7 366.1,68.6 368.5,72.9 C370.9,77.2 373.5,84.6 375.7,89.3 C377.9,94 379.8,97.6 381.8,101 C383.9,104.4 385.5,106.6 388,109.5 C390.5,112.4 393.3,115.3 396.8,118.4 C400.3,121.5 405.9,125.3 409,128.2 C412.1,131.1 413.1,132.6 415.2,135.6 C417.2,138.6 419.7,143.8 421.3,146 C422.9,148.2 423.8,148.8 425,149.1 C426.2,149.4 427.5,149.4 428.7,147.9 C429.9,146.4 430.8,144.3 432.3,140 C433.9,135.7 436,128.6 438,122.1 C440,115.6 442.3,107.3 444.5,100.8 C446.7,94.3 449.2,87 451,82.9 C452.8,78.8 453.7,77.7 455.1,76.3 C456.5,74.9 456.9,75.1 459.2,74.7 C461.4,74.3 466,73.9 468.6,74.1 C471.2,74.2 472.4,74.7 474.8,75.6 C477.2,76.5 480.3,77.5 483,79.7 C485.7,81.9 488.4,85.5 491.1,88.9 C493.8,92.3 496.9,96.4 499.3,100.1 C501.7,103.8 503,106.7 505.4,111.3 C507.8,115.9 510.9,122.9 513.6,127.7 C516.3,132.5 519.7,136.8 521.8,140 C523.9,143.2 524.4,145.8 526.1,147.2 C527.9,148.6 529.9,148.2 532.3,148.2 C534.7,148.2 537.3,147.2 540.4,147.2 C543.5,147.2 548,147 550.7,148.2 C553.4,149.4 555.1,150.9 556.8,154.3 C558.5,157.7 559.5,163.5 560.9,168.6 C562.3,173.7 563.5,179.2 565,185 C566.5,190.8 568.2,198.1 570.1,203.4 C572,208.7 574.1,212.7 576.2,216.6 C578.3,220.5 580.4,224.2 582.5,226.6 C584.6,228.9 586.6,229 588.6,230.7 C590.6,232.4 592.4,234.1 594.8,236.8 C597.2,239.5 600.3,243.9 603,247 C605.7,250.1 608,253.1 611.1,255.2 C614.2,257.2 618.3,257.2 621.4,259.3 C624.5,261.4 626.8,264.4 629.5,267.5 C632.2,270.6 635.4,275.2 637.7,278 C640,280.8 641.8,283.9 643.3,284.4 C644.8,284.9 645.8,282.4 647,280.9 C648.2,279.4 649.5,277.2 650.7,275.4 C651.9,273.6 652.9,272 654.3,269.9 C655.7,267.8 657.5,264.5 658.9,262.5 C660.3,260.5 661.4,259.2 662.6,257.9 C663.8,256.6 665.1,255.8 666.3,254.9 C667.5,254.1 668.9,252.8 670,252.8 C671.1,252.8 671.9,253.9 672.8,255.1 C673.7,256.3 674.6,259.7 675.5,260.2 C676.4,260.7 677.2,258.9 678.3,257.9 C679.4,256.9 680.6,254.9 682,254.2 C683.4,253.5 684.6,254.2 686.8,253.5 C689,252.8 692.6,251.1 695,250.1 C697.4,249.1 699.1,247.4 701.1,247.4 C703.1,247.4 706.2,249.7 707.2,250.1" fill="none" stroke="#4444ad" stroke-width="1.05" stroke-linejoin="round"/>
<line x1="11.9" y1="359.6" x2="11.9" y2="360.5" stroke="#2a7a2a" stroke-width="1"/>
<line x1="17.1" y1="359.6" x2="17.1" y2="361.3" stroke="#2a7a2a" stroke-width="1"/>
<line x1="22.3" y1="359.6" x2="22.3" y2="362.6" stroke="#2a7a2a" stroke-width="1"/>
<line x1="27.5" y1="359.6" x2="27.5" y2="365.4" stroke="#2a7a2a" stroke-width="1"/>
<line x1="32.6" y1="359.6" x2="32.6" y2="361.3" stroke="#2a7a2a" stroke-width="1"/>
<line x1="37.8" y1="359" x2="37.8" y2="359.6" stroke="#d43a3a" stroke-width="1"/>
<line x1="43" y1="353.9" x2="43" y2="359.6" stroke="#d43a3a" stroke-width="1"/>
<line x1="48.2" y1="351.8" x2="48.2" y2="359.6" stroke="#d43a3a" stroke-width="1"/>
<line x1="53.4" y1="349.3" x2="53.4" y2="359.6" stroke="#d43a3a" stroke-width="1"/>
<line x1="58.6" y1="352.4" x2="58.6" y2="359.6" stroke="#d43a3a" stroke-width="1"/>
<line x1="63.7" y1="356.1" x2="63.7" y2="359.6" stroke="#d43a3a" stroke-width="1"/>
<line x1="68.9" y1="359" x2="68.9" y2="359.6" stroke="#d43a3a" stroke-width="1"/>
<line x1="74.1" y1="359.6" x2="74.1" y2="360.3" stroke="#2a7a2a" stroke-width="1"/>
<line x1="79.3" y1="359.6" x2="79.3" y2="360.6" stroke="#2a7a2a" stroke-width="1"/>
<line x1="89.7" y1="359" x2="89.7" y2="359.6" stroke="#d43a3a" stroke-width="1"/>
<line x1="94.9" y1="359.6" x2="94.9" y2="361.1" stroke="#2a7a2a" stroke-width="1"/>
<line x1="100" y1="359.6" x2="100" y2="362" stroke="#2a7a2a" stroke-width="1"/>
<line x1="105.2" y1="359.6" x2="105.2" y2="363.6" stroke="#2a7a2a" stroke-width="1"/>
<line x1="110.4" y1="359.6" x2="110.4" y2="363.3" stroke="#2a7a2a" stroke-width="1"/>
<line x1="115.6" y1="359.6" x2="115.6" y2="363" stroke="#2a7a2a" stroke-width="1"/>
<line x1="120.8" y1="359.6" x2="120.8" y2="368.6" stroke="#2a7a2a" stroke-width="1"/>
<line x1="126" y1="359.6" x2="126" y2="371.3" stroke="#2a7a2a" stroke-width="1"/>
<line x1="131.2" y1="359.6" x2="131.2" y2="372.9" stroke="#2a7a2a" stroke-width="1"/>
<line x1="136.3" y1="359.6" x2="136.3" y2="372.9" stroke="#2a7a2a" stroke-width="1"/>
<line x1="141.5" y1="359.6" x2="141.5" y2="373.5" stroke="#2a7a2a" stroke-width="1"/>
<line x1="146.7" y1="359.6" x2="146.7" y2="374.5" stroke="#2a7a2a" stroke-width="1"/>
<line x1="151.9" y1="359.6" x2="151.9" y2="371" stroke="#2a7a2a" stroke-width="1"/>
<line x1="157.1" y1="359.6" x2="157.1" y2="365.4" stroke="#2a7a2a" stroke-width="1"/>
<line x1="162.3" y1="359.6" x2="162.3" y2="361" stroke="#2a7a2a" stroke-width="1"/>
<line x1="167.4" y1="359.6" x2="167.4" y2="360.5" stroke="#2a7a2a" stroke-width="1"/>
<line x1="177.8" y1="358.4" x2="177.8" y2="359.6" stroke="#d43a3a" stroke-width="1"/>
<line x1="183" y1="348.4" x2="183" y2="359.6" stroke="#d43a3a" stroke-width="1"/>
<line x1="188.2" y1="341.4" x2="188.2" y2="359.6" stroke="#d43a3a" stroke-width="1"/>
<line x1="193.4" y1="339.3" x2="193.4" y2="359.6" stroke="#d43a3a" stroke-width="1"/>
<line x1="198.6" y1="339.9" x2="198.6" y2="359.6" stroke="#d43a3a" stroke-width="1"/>
<line x1="203.7" y1="341.4" x2="203.7" y2="359.6" stroke="#d43a3a" stroke-width="1"/>
<line x1="208.9" y1="342.1" x2="208.9" y2="359.6" stroke="#d43a3a" stroke-width="1"/>
<line x1="214.1" y1="348.9" x2="214.1" y2="359.6" stroke="#d43a3a" stroke-width="1"/>
<line x1="219.3" y1="353.8" x2="219.3" y2="359.6" stroke="#d43a3a" stroke-width="1"/>
<line x1="224.5" y1="358" x2="224.5" y2="359.6" stroke="#d43a3a" stroke-width="1"/>
<line x1="229.7" y1="359.6" x2="229.7" y2="361.7" stroke="#2a7a2a" stroke-width="1"/>
<line x1="234.9" y1="359.6" x2="234.9" y2="365.4" stroke="#2a7a2a" stroke-width="1"/>
<line x1="240" y1="359.6" x2="240" y2="367" stroke="#2a7a2a" stroke-width="1"/>
<line x1="245.2" y1="359.6" x2="245.2" y2="369.8" stroke="#2a7a2a" stroke-width="1"/>
<line x1="250.4" y1="359.6" x2="250.4" y2="368.5" stroke="#2a7a2a" stroke-width="1"/>
<line x1="255.6" y1="359.6" x2="255.6" y2="368.3" stroke="#2a7a2a" stroke-width="1"/>
<line x1="260.8" y1="359.6" x2="260.8" y2="368.5" stroke="#2a7a2a" stroke-width="1"/>
<line x1="266" y1="359.6" x2="266" y2="367.9" stroke="#2a7a2a" stroke-width="1"/>
<line x1="271.1" y1="359.6" x2="271.1" y2="368.8" stroke="#2a7a2a" stroke-width="1"/>
<line x1="276.3" y1="359.6" x2="276.3" y2="363.5" stroke="#2a7a2a" stroke-width="1"/>
<line x1="281.5" y1="359.6" x2="281.5" y2="362.5" stroke="#2a7a2a" stroke-width="1"/>
<line x1="286.7" y1="359.6" x2="286.7" y2="362.9" stroke="#2a7a2a" stroke-width="1"/>
<line x1="291.9" y1="359.6" x2="291.9" y2="361" stroke="#2a7a2a" stroke-width="1"/>
<line x1="297.1" y1="359.6" x2="297.1" y2="360.3" stroke="#2a7a2a" stroke-width="1"/>
<line x1="302.3" y1="359.6" x2="302.3" y2="361.2" stroke="#2a7a2a" stroke-width="1"/>
<line x1="307.4" y1="357" x2="307.4" y2="359.6" stroke="#d43a3a" stroke-width="1"/>
<line x1="312.6" y1="339.3" x2="312.6" y2="359.6" stroke="#d43a3a" stroke-width="1"/>
<line x1="317.8" y1="330.2" x2="317.8" y2="359.6" stroke="#d43a3a" stroke-width="1"/>
<line x1="323" y1="326" x2="323" y2="359.6" stroke="#d43a3a" stroke-width="1"/>
<line x1="328.2" y1="324.3" x2="328.2" y2="359.6" stroke="#d43a3a" stroke-width="1"/>
<line x1="333.4" y1="326.4" x2="333.4" y2="359.6" stroke="#d43a3a" stroke-width="1"/>
<line x1="338.6" y1="327.4" x2="338.6" y2="359.6" stroke="#d43a3a" stroke-width="1"/>
<line x1="343.7" y1="330.2" x2="343.7" y2="359.6" stroke="#d43a3a" stroke-width="1"/>
<line x1="348.9" y1="335.5" x2="348.9" y2="359.6" stroke="#d43a3a" stroke-width="1"/>
<line x1="354.1" y1="342.1" x2="354.1" y2="359.6" stroke="#d43a3a" stroke-width="1"/>
<line x1="359.3" y1="348" x2="359.3" y2="359.6" stroke="#d43a3a" stroke-width="1"/>
<line x1="364.5" y1="352.3" x2="364.5" y2="359.6" stroke="#d43a3a" stroke-width="1"/>
<line x1="369.7" y1="358.3" x2="369.7" y2="359.6" stroke="#d43a3a" stroke-width="1"/>
<line x1="374.8" y1="359.6" x2="374.8" y2="364.1" stroke="#2a7a2a" stroke-width="1"/>
<line x1="380" y1="359.6" x2="380" y2="369.8" stroke="#2a7a2a" stroke-width="1"/>
<line x1="385.2" y1="359.6" x2="385.2" y2="373.5" stroke="#2a7a2a" stroke-width="1"/>
<line x1="390.4" y1="359.6" x2="390.4" y2="374.2" stroke="#2a7a2a" stroke-width="1"/>
<line x1="395.6" y1="359.6" x2="395.6" y2="373.5" stroke="#2a7a2a" stroke-width="1"/>
<line x1="400.8" y1="359.6" x2="400.8" y2="375.8" stroke="#2a7a2a" stroke-width="1"/>
<line x1="406" y1="359.6" x2="406" y2="377.9" stroke="#2a7a2a" stroke-width="1"/>
<line x1="411.1" y1="359.6" x2="411.1" y2="379.5" stroke="#2a7a2a" stroke-width="1"/>
<line x1="416.3" y1="359.6" x2="416.3" y2="380.4" stroke="#2a7a2a" stroke-width="1"/>
<line x1="421.5" y1="359.6" x2="421.5" y2="378.8" stroke="#2a7a2a" stroke-width="1"/>
<line x1="426.7" y1="359.6" x2="426.7" y2="377.5" stroke="#2a7a2a" stroke-width="1"/>
<line x1="431.9" y1="359.6" x2="431.9" y2="369.2" stroke="#2a7a2a" stroke-width="1"/>
<line x1="442.3" y1="354.9" x2="442.3" y2="359.6" stroke="#d43a3a" stroke-width="1"/>
<line x1="447.4" y1="353" x2="447.4" y2="359.6" stroke="#d43a3a" stroke-width="1"/>
<line x1="452.6" y1="351.1" x2="452.6" y2="359.6" stroke="#d43a3a" stroke-width="1"/>
<line x1="457.8" y1="350.1" x2="457.8" y2="359.6" stroke="#d43a3a" stroke-width="1"/>
<line x1="463" y1="349.7" x2="463" y2="359.6" stroke="#d43a3a" stroke-width="1"/>
<line x1="468.2" y1="349.9" x2="468.2" y2="359.6" stroke="#d43a3a" stroke-width="1"/>
<line x1="473.4" y1="353" x2="473.4" y2="359.6" stroke="#d43a3a" stroke-width="1"/>
<line x1="478.5" y1="357.1" x2="478.5" y2="359.6" stroke="#d43a3a" stroke-width="1"/>
<line x1="483.7" y1="358.9" x2="483.7" y2="359.6" stroke="#d43a3a" stroke-width="1"/>
<line x1="488.9" y1="359.6" x2="488.9" y2="360.3" stroke="#2a7a2a" stroke-width="1"/>
<line x1="494.1" y1="359.6" x2="494.1" y2="362.6" stroke="#2a7a2a" stroke-width="1"/>
<line x1="499.3" y1="359.6" x2="499.3" y2="366.3" stroke="#2a7a2a" stroke-width="1"/>
<line x1="504.5" y1="359.6" x2="504.5" y2="369.8" stroke="#2a7a2a" stroke-width="1"/>
<line x1="509.7" y1="359.6" x2="509.7" y2="374.2" stroke="#2a7a2a" stroke-width="1"/>
<line x1="514.8" y1="359.6" x2="514.8" y2="375.4" stroke="#2a7a2a" stroke-width="1"/>
<line x1="520" y1="359.6" x2="520" y2="375.8" stroke="#2a7a2a" stroke-width="1"/>
<line x1="525.2" y1="359.6" x2="525.2" y2="376.7" stroke="#2a7a2a" stroke-width="1"/>
<line x1="530.4" y1="359.6" x2="530.4" y2="374.6" stroke="#2a7a2a" stroke-width="1"/>
<line x1="535.6" y1="359.6" x2="535.6" y2="371.7" stroke="#2a7a2a" stroke-width="1"/>
<line x1="540.8" y1="359.6" x2="540.8" y2="370.4" stroke="#2a7a2a" stroke-width="1"/>
<line x1="546" y1="359.6" x2="546" y2="368.3" stroke="#2a7a2a" stroke-width="1"/>
<line x1="551.1" y1="359.6" x2="551.1" y2="368.6" stroke="#2a7a2a" stroke-width="1"/>
<line x1="556.3" y1="359.6" x2="556.3" y2="370.4" stroke="#2a7a2a" stroke-width="1"/>
<line x1="561.5" y1="359.6" x2="561.5" y2="376.7" stroke="#2a7a2a" stroke-width="1"/>
<line x1="566.7" y1="359.6" x2="566.7" y2="380.4" stroke="#2a7a2a" stroke-width="1"/>
<line x1="571.9" y1="359.6" x2="571.9" y2="381" stroke="#2a7a2a" stroke-width="1"/>
<line x1="577.1" y1="359.6" x2="577.1" y2="379.6" stroke="#2a7a2a" stroke-width="1"/>
<line x1="582.2" y1="359.6" x2="582.2" y2="376.7" stroke="#2a7a2a" stroke-width="1"/>
<line x1="587.4" y1="359.6" x2="587.4" y2="375.8" stroke="#2a7a2a" stroke-width="1"/>
<line x1="592.6" y1="359.6" x2="592.6" y2="377.3" stroke="#2a7a2a" stroke-width="1"/>
<line x1="597.8" y1="359.6" x2="597.8" y2="376.7" stroke="#2a7a2a" stroke-width="1"/>
<line x1="603" y1="359.6" x2="603" y2="374.6" stroke="#2a7a2a" stroke-width="1"/>
<line x1="608.2" y1="359.6" x2="608.2" y2="370.8" stroke="#2a7a2a" stroke-width="1"/>
<line x1="613.4" y1="359.6" x2="613.4" y2="367.1" stroke="#2a7a2a" stroke-width="1"/>
<line x1="618.5" y1="359.6" x2="618.5" y2="365.5" stroke="#2a7a2a" stroke-width="1"/>
<line x1="623.7" y1="359.6" x2="623.7" y2="365.5" stroke="#2a7a2a" stroke-width="1"/>
<line x1="628.9" y1="359.6" x2="628.9" y2="364.6" stroke="#2a7a2a" stroke-width="1"/>
<line x1="634.1" y1="359.6" x2="634.1" y2="363.9" stroke="#2a7a2a" stroke-width="1"/>
<line x1="639.3" y1="359.6" x2="639.3" y2="362.1" stroke="#2a7a2a" stroke-width="1"/>
<line x1="644.5" y1="359.6" x2="644.5" y2="360.3" stroke="#2a7a2a" stroke-width="1"/>
<line x1="649.7" y1="351.8" x2="649.7" y2="359.6" stroke="#d43a3a" stroke-width="1"/>
<line x1="654.8" y1="348.9" x2="654.8" y2="359.6" stroke="#d43a3a" stroke-width="1"/>
<line x1="660" y1="346.5" x2="660" y2="359.6" stroke="#d43a3a" stroke-width="1"/>
<line x1="665.2" y1="346.4" x2="665.2" y2="359.6" stroke="#d43a3a" stroke-width="1"/>
<line x1="670.4" y1="347.4" x2="670.4" y2="359.6" stroke="#d43a3a" stroke-width="1"/>
<line x1="675.6" y1="348" x2="675.6" y2="359.6" stroke="#d43a3a" stroke-width="1"/>
<line x1="680.8" y1="343.7" x2="680.8" y2="359.6" stroke="#d43a3a" stroke-width="1"/>
<line x1="685.9" y1="344.9" x2="685.9" y2="359.6" stroke="#d43a3a" stroke-width="1"/>
<line x1="691.1" y1="344.9" x2="691.1" y2="359.6" stroke="#d43a3a" stroke-width="1"/>
<line x1="696.3" y1="345.9" x2="696.3" y2="359.6" stroke="#d43a3a" stroke-width="1"/>
<line x1="701.5" y1="345.9" x2="701.5" y2="359.6" stroke="#d43a3a" stroke-width="1"/>
<line x1="706.7" y1="346.5" x2="706.7" y2="359.6" stroke="#d43a3a" stroke-width="1"/>
<path d="M6.8,359.5 C10.3,359.9 22.5,361.5 27.6,361.7 C32.7,361.9 33,361.4 37.3,360.8 C41.6,360.2 49.4,358.7 53.5,358 C57.6,357.3 58.7,356.6 62.2,356.4 C65.7,356.2 70,356.6 74.6,356.7 C79.2,356.8 85.4,356.5 89.6,356.7 C93.8,356.9 94.5,357.1 99.5,357.6 C104.5,358.1 114.4,358.8 119.9,359.9 C125.4,361 128.2,362.6 132.3,364.2 C136.5,365.8 141.3,367.9 144.8,369.2 C148.3,370.5 150.4,371.4 153.5,372 C156.6,372.6 159.7,372.6 163.4,372.7 C167.1,372.8 172.3,372.8 175.8,372.3 C179.3,371.8 181.5,371.1 184.6,369.8 C187.7,368.6 191.5,366.2 194.5,364.8 C197.5,363.4 199,362.9 202.4,361.7 C205.8,360.4 211.4,358.4 214.9,357.3 C218.4,356.2 220.9,355.6 223.6,355.4 C226.3,355.2 228.3,355.7 231,356.1 C233.7,356.5 236.3,357.1 239.8,357.9 C243.3,358.7 248.1,359.9 252.2,361 C256.3,362.1 260.9,363.3 264.6,364.2 C268.3,365.1 270.5,366.1 274.6,366.6 C278.8,367.2 284.4,367.2 289.5,367.5 C294.6,367.8 301.1,368.4 304.9,368.2 C308.7,367.9 309.5,367.5 312.4,366 C315.3,364.5 318.6,362.3 322.3,359.2 C326,356.1 330.7,350.7 334.8,347.3 C338.9,343.9 343.5,340.7 347.2,338.6 C350.9,336.5 354,335.9 357.1,334.9 C360.2,333.9 362.9,332.9 365.8,332.7 C368.7,332.4 371.5,332.7 374.6,333.4 C377.7,334.1 380.5,335.4 384.5,336.8 C388.5,338.2 394.3,339.8 398.7,341.8 C403.1,343.8 407,346.6 411.1,348.7 C415.2,350.8 420,353 423.5,354.3 C427,355.6 429.7,356 432.2,356.4 C434.7,356.8 435.6,356.8 438.5,356.4 C441.4,356 446,355.1 449.7,354.3 C453.4,353.5 456.9,352.6 460.8,351.8 C464.7,351 468.9,349.8 473.3,349.3 C477.7,348.8 483,348.8 487.4,348.9 C491.8,349 495.8,348.6 499.9,349.7 C504,350.8 508.1,353.7 512.3,355.5 C516.4,357.3 520.6,359.1 524.8,360.5 C528.9,361.9 533.1,363.1 537.2,364.2 C541.3,365.3 545.5,366 549.6,367.1 C553.8,368.2 558.7,369.7 562.1,371.1 C565.5,372.5 566.6,373.6 570,375.4 C573.4,377.2 578.2,379.6 582.4,381.7 C586.5,383.8 590.8,386.2 594.9,387.9 C599,389.5 603.1,390.6 607.3,391.6 C611.4,392.6 615.6,393.5 619.8,394.1 C623.9,394.7 628.3,394.9 632.2,395.3 C636.1,395.7 639.2,397 643.4,396.6 C647.5,396.2 652.8,394.2 657.1,392.9 C661.5,391.6 664,390.6 669.5,388.8 C675,387 683.6,384.3 689.8,382.2 C696,380.1 704,377.3 706.9,376.3" fill="none" stroke="#ff00ff" stroke-width="1.1"/>
<path d="M6.8,359.5 C8.4,359.7 12.7,359.6 16.2,360.5 C19.7,361.4 24.9,364.8 27.6,365.1 C30.3,365.5 29.6,363.8 32.3,362.6 C34.9,361.4 40,359.7 43.5,358 C47,356.3 51,353.2 53.5,352.4 C56,351.6 56.2,352.4 58.5,353 C60.8,353.6 63.7,354.9 67.2,355.7 C70.7,356.5 75.9,357.5 79.6,357.6 C83.3,357.7 86.3,356.4 89.6,356.5 C92.9,356.6 95.3,357.5 99.5,358.3 C103.7,359.1 111.3,359.8 114.9,361.1 C118.5,362.4 118.2,364.5 121.1,366.1 C124,367.8 128.4,369.2 132.3,371 C136.2,372.8 141.9,375.5 144.8,376.6 C147.7,377.7 147.6,377.7 149.7,377.5 C151.8,377.3 154.7,376.2 157.2,375.4 C159.7,374.6 161.6,373.6 164.7,372.9 C167.8,372.2 172.9,372.1 175.8,371 C178.7,369.9 180,368.1 182.1,366.1 C184.2,364.1 186.2,361.2 188.3,359.2 C190.4,357.2 193.2,355.2 194.5,354.3 C195.8,353.4 193.7,354.5 196.2,353.6 C198.7,352.8 205.8,349.4 209.3,349.2 C212.8,349 214.6,351.5 217.4,352.6 C220.2,353.8 223.2,354.7 226.1,356.1 C229,357.5 231.6,359.4 234.8,361 C238,362.6 242.6,364.7 245.3,365.4 C248,366.1 248.5,365 250.9,365.4 C253.3,365.8 256.3,366.9 259.7,367.9 C263.1,368.9 268.6,371 271.5,371.2 C274.4,371.4 274.1,369.5 277.1,369.1 C280.1,368.8 286.1,369.2 289.5,369.1 C292.9,369 294.7,368.7 297.4,368.5 C300.1,368.3 303.4,369 305.5,367.9 C307.6,366.8 308.3,364.3 309.9,361.6 C311.5,358.9 312.8,355 314.9,351.7 C317,348.4 320,344.5 322.3,341.7 C324.6,338.9 326.4,336.6 328.5,334.9 C330.6,333.1 332.7,332.4 334.8,331.2 C336.9,329.9 338.7,328.3 341,327.4 C343.3,326.5 346.1,325.6 348.4,325.6 C350.7,325.6 351.6,326.3 354.7,327.2 C357.8,328.1 363.8,329.7 367.1,331.2 C370.4,332.7 372.5,334.6 374.6,336.1 C376.8,337.6 378.1,338.5 380,340 C381.9,341.5 384.1,343.8 386.2,344.9 C388.3,346 389.3,345.2 392.4,346.8 C395.5,348.4 400.8,351.9 404.9,354.3 C409,356.7 413.7,359.4 417.3,361.1 C420.9,362.8 424.1,364.6 426.6,364.6 C429.1,364.6 430.4,362.4 432.2,361.1 C434,359.8 435.1,358.1 437.2,356.7 C439.3,355.2 441.8,353.7 444.7,352.4 C447.6,351.1 450.9,349.8 454.6,348.7 C458.3,347.6 463.7,345.9 467.1,345.5 C470.5,345.1 472.4,346.1 475,346.4 C477.6,346.7 480,346.9 482.5,347.4 C485,347.9 487,348.1 489.9,349.3 C492.8,350.6 496.2,352.6 499.9,354.9 C503.6,357.2 508.1,360.7 512.3,363 C516.4,365.3 521.7,367.5 524.8,368.6 C527.9,369.7 528.3,369.4 531,369.8 C533.7,370.2 537.8,370.8 540.9,371.1 C544,371.4 547.1,371.2 549.6,371.7 C552.1,372.2 553.7,372.8 555.8,374.2 C557.9,375.6 560,377.9 562.1,379.8 C564.2,381.7 565.9,383.8 568.3,385.4 C570.6,386.9 573.9,388.3 576.2,389.1 C578.6,389.9 580.3,389.8 582.4,390.4 C584.5,391 586.2,391.8 588.7,392.9 C591.2,394 594.3,396.4 597.4,397.2 C600.5,398 602.5,397.5 607.3,397.5 C612.1,397.5 620,397.3 626,397.2 C632,397.1 639.5,397.6 643.4,396.6 C647.3,395.6 647.3,392.7 649.6,391 C651.9,389.3 654.6,387.8 657.1,386.6 C659.6,385.4 661.8,384.5 664.5,383.8 C667.2,383.1 670.6,383.4 673.6,382.2 C676.6,381 679.2,378.1 682.3,376.6 C685.4,375.2 688.1,374.6 692.2,373.5 C696.3,372.4 704.5,370.4 706.9,369.8" fill="none" stroke="#333399" stroke-width="1.1"/>
<path d="M12.3,470 C13.2,468.8 15.6,463.2 17.9,462.7 C20.2,462.1 23.6,469.2 25.9,466.7 C28.2,464.2 29.5,453.9 31.8,447.8 C34.1,441.7 37.5,434.5 39.8,429.8 C42.1,425.1 43.8,422 45.8,419.9 C47.8,417.8 50.5,416.2 52.1,416.9 C53.8,417.6 54.1,420.1 55.7,423.9 C57.3,427.7 59.7,435.4 61.7,439.8 C63.7,444.2 65.7,448 67.7,450.1 C69.7,452.2 71.6,450.5 73.6,452.7 C75.6,454.9 77.6,463 79.6,463.3 C81.6,463.6 83.9,456.5 85.6,454.7 C87.3,452.9 87.9,450.7 89.6,452.7 C91.2,454.7 92.8,462.9 95.5,466.7 C98.2,470.5 102.5,474.5 105.5,475.6 C108.5,476.7 110.4,472.9 113.4,473.2 C116.4,473.5 119.8,476.5 123.4,477.6 C127.1,478.7 132,479.4 135.3,479.6 C138.6,479.8 141,478.6 143.3,478.6 C145.6,478.6 147.4,480.9 149,479.5 C150.6,478.1 151.7,474.6 153,470 C154.3,465.4 155.5,456.5 157,452 C158.5,447.5 160.2,444.7 162,443 C163.8,441.3 165.6,442.8 167.9,441.8 C170.2,440.8 173.2,439.3 175.9,436.8 C178.6,434.3 181.5,429.6 183.8,426.9 C186.1,424.2 187.8,421.2 189.8,420.5 C191.8,419.8 193.5,421.2 195.8,422.9 C198.1,424.6 201.4,429.2 203.7,430.9 C206,432.6 207.7,429.6 209.7,432.9 C211.7,436.2 213.4,445.2 215.7,450.8 C218,456.4 220.9,461.6 223.6,466.7 C226.2,471.8 229.3,479 231.6,481.6 C233.9,484.2 235.6,482.6 237.6,482.6 C239.6,482.6 241.5,482.9 243.5,481.6 C245.5,480.3 247.2,475.7 249.5,474.7 C251.8,473.7 254.8,475 257.5,475.6 C260.1,476.2 263.2,477.8 265.4,478.6 C267.5,479.4 268.4,485.4 270.4,480.6 C272.4,475.8 274.9,453.5 277.4,449.8 C279.9,446.1 282.6,457.3 285.3,458.7 C288,460.1 290.7,457.1 293.3,458.3 C295.9,459.5 299.1,466.3 301.2,465.7 C303.3,465.1 303.9,460.9 306,454.8 C308.1,448.7 310.9,434 313.9,428.9 C316.9,423.8 321.2,424.7 323.9,423.9 C326.6,423.1 327.2,423.5 329.9,423.9 C332.5,424.3 337.1,425.8 339.8,426.5 C342.5,427.2 343.8,426.7 345.8,427.9 C347.8,429.1 349.7,429.4 351.7,433.9 C353.7,438.4 355.7,447.7 357.7,454.8 C359.7,461.9 361.7,472.1 363.7,476.6 C365.7,481.1 367.7,480.1 369.7,481.6 C371.7,483.1 373.3,484.9 375.6,485.6 C377.9,486.3 381,487.1 383.6,485.6 C386.2,484.1 388.9,479.1 391.5,476.6 C394.1,474.1 396.8,470.7 399.5,470.7 C402.2,470.7 404.9,475.1 407.5,476.6 C410.1,478.1 412.8,479.9 415.4,479.6 C418,479.3 421.4,475.7 423.4,474.7 C425.4,473.7 426.1,478 427.4,473.7 C428.7,469.4 429.6,456.3 431.3,448.8 C433,441.3 435.3,433.4 437.3,428.9 C439.3,424.4 441,422.5 443.3,421.9 C445.6,421.3 449.4,424.6 451.2,425.3 C453,426 452.2,426.1 454,425.9 C455.8,425.7 459.6,423.6 461.9,423.9 C464.2,424.2 465.9,425.4 467.9,427.9 C469.9,430.4 472.2,434 473.9,438.8 C475.6,443.6 476.6,452.1 477.9,456.7 C479.2,461.3 480.5,463.9 481.8,466.7 C483.1,469.5 484.5,471.4 485.8,473.7 C487.1,476 488.1,480.1 489.8,480.6 C491.5,481.2 493.5,476.8 495.8,477 C498.1,477.2 501.1,480.6 503.7,481.6 C506.3,482.6 509,483.4 511.7,483 C514.4,482.6 517.4,480.1 519.7,479 C522,477.9 523.6,479 525.6,476.6 C527.6,474.2 529.6,467.5 531.6,464.7 C533.6,461.9 535.6,460.7 537.6,459.7 C539.6,458.7 541.9,459.5 543.5,458.7 C545.1,457.9 545.8,455.1 547.5,455.1 C549.2,455.1 551.5,456.1 553.5,458.7 C555.5,461.3 557.5,467.7 559.5,470.7 C561.5,473.7 563.1,475.6 565.4,476.6 C567.7,477.7 570.8,477.6 573.4,477 C576,476.4 578.6,472.9 581.3,472.7 C583.9,472.5 586.3,475.4 589.3,475.6 C592.3,475.8 596.5,475.2 599.3,473.7 C602.1,472.2 603.7,468.9 606,466.7 C608.3,464.5 610.6,460.4 612.9,460.7 C615.2,461 617.4,466.5 619.9,468.3 C622.4,470.1 625.6,470.7 627.9,471.7 C630.2,472.7 631.8,474.8 633.8,474.3 C635.8,473.8 638.1,469.5 639.8,468.7 C641.5,467.9 642.1,474.8 643.8,469.7 C645.5,464.6 648.1,443.4 649.8,437.8 C651.4,432.2 652.1,436.8 653.7,436.4 C655.4,436 658,435 659.7,435.2 C661.4,435.4 662,435.9 663.7,437.8 C665.4,439.7 667.8,443.9 669.7,446.8 C671.6,449.7 673.2,457.2 675.2,455.1 C677.2,453 679.9,435.9 681.6,433.9 C683.3,431.8 684,440.7 685.6,442.8 C687.2,444.9 689.5,444 691.5,446.4 C693.5,448.8 694.9,455.2 697.5,457.1 C700.1,459 705.5,457.6 707.1,457.7" fill="none" stroke="#7a7a7a" stroke-width="1"/>
<path d="M12.3,470 C14.9,469.6 23.3,469.8 27.9,467.7 C32.5,465.6 35.8,461.2 39.8,457.7 C43.8,454.2 48.4,449.2 51.7,446.8 C55,444.4 57.4,444 59.7,443.4 C62,442.8 62.4,442.7 65.7,443.4 C69,444.1 75.3,446.5 79.6,447.8 C83.9,449.1 87.5,449.7 91.5,451.3 C95.5,452.9 98.8,455.6 103.5,457.7 C108.2,459.8 114.1,461.7 119.4,463.7 C124.7,465.7 130.7,468 135.3,469.6 C140,471.2 144,473 147.3,473.2 C150.6,473.4 152.1,472.2 155.2,470.6 C158.3,469 161.5,466.7 165.9,463.7 C170.3,460.7 176.8,456.4 181.8,452.8 C186.8,449.2 191.8,444.6 195.8,442.4 C199.8,440.2 203,440.5 205.7,439.8 C208.3,439.1 207.7,436.6 211.7,438.4 C215.7,440.2 224,446.8 229.6,450.8 C235.2,454.9 238.9,459.4 245.5,462.7 C252.1,465.9 264.1,469.6 269.4,470.3 C274.7,471 274.1,468 277.4,467.1 C280.7,466.2 285.3,465.3 289.3,464.7 C293.3,464.1 297.8,464.5 301.2,463.7 C304.6,462.9 306.9,461.7 310,459.7 C313.1,457.7 316.6,454.3 319.9,451.8 C323.2,449.3 326.6,446.6 329.9,444.8 C333.2,443 336.8,442.1 339.8,440.8 C342.8,439.5 345.5,437.8 347.8,437.2 C350.1,436.6 350.1,434.8 353.7,437.2 C357.3,439.6 364,447.1 369.7,451.8 C375.4,456.6 382.6,462.9 387.6,465.7 C392.6,468.4 394.9,467.4 399.5,468.3 C404.1,469.2 410.9,470.4 415.4,471.1 C419.9,471.8 422.4,474.2 426.4,472.3 C430.4,470.4 435.2,463.4 439.3,459.7 C443.4,455.9 447.8,452.4 451.2,449.8 C454.6,447.2 456.9,445.5 460,443.8 C463.1,442.1 467.2,440.4 469.9,439.8 C472.5,439.2 472.6,438.4 475.9,440.4 C479.2,442.4 484.8,448.1 489.8,451.8 C494.8,455.5 501,459.9 505.7,462.7 C510.4,465.4 513.7,467.1 517.7,468.3 C521.7,469.5 525.6,469.9 529.6,469.7 C533.6,469.5 537.9,468 541.5,467.1 C545.1,466.2 548.2,464.3 551.5,464.3 C554.8,464.3 557.1,466.1 561.4,467.1 C565.7,468.1 572.1,469.5 577.4,470.3 C582.7,471.1 587.9,471.6 593.3,471.7 C598.7,471.8 605.6,471.6 610,471.1 C614.4,470.6 614.3,468.8 619.9,468.7 C625.5,468.6 637.8,471.3 643.8,470.3 C649.8,469.3 652.1,465 655.7,462.7 C659.4,460.4 662.6,457.6 665.7,456.3 C668.9,455 671.6,456 674.6,455.1 C677.6,454.2 680.8,452.1 683.6,451.2 C686.4,450.3 688.9,449.8 691.5,449.8 C694.1,449.8 696.9,450.8 699.5,451.2 C702.1,451.6 705.8,452.2 707.1,452.4" fill="none" stroke="#ff00ff" stroke-width="1.1"/>
<path d="M12.3,470 C13.2,469.6 15.6,467.7 17.9,467.3 C20.2,466.9 23.6,469 25.9,467.7 C28.2,466.4 28.8,463.8 31.8,459.7 C34.8,455.6 40.1,446.9 43.8,442.8 C47.4,438.8 50.7,435.7 53.7,435.4 C56.7,435.1 59.4,439.1 61.7,440.8 C64,442.5 65.7,444.6 67.7,445.8 C69.7,447 71.6,446.6 73.6,447.8 C75.6,449.1 77.1,452.8 79.6,453.3 C82.1,453.8 85.9,450.1 88.6,450.7 C91.2,451.3 92.3,454.5 95.5,456.7 C98.7,458.9 103.5,461.9 107.5,463.7 C111.5,465.5 114.8,466.2 119.4,467.7 C124,469.2 130.7,471.5 135.3,472.6 C140,473.8 144.7,474.6 147.3,474.6 C149.9,474.6 149.6,474.1 151,472.5 C152.4,470.9 153.8,467.3 156,464.7 C158.2,462.1 160.6,459.4 163.9,457.1 C167.2,454.8 172.2,453.4 175.9,450.8 C179.6,448.2 183.2,444.1 185.8,441.8 C188.5,439.5 189.5,437.7 191.8,436.8 C194.1,435.9 196.8,436.5 199.8,436.4 C202.8,436.3 206.4,434.8 209.7,436.4 C213,438 216,442.1 219.7,445.8 C223.3,449.5 228.3,455.4 231.6,458.7 C234.9,462 237.3,464 239.6,465.7 C241.9,467.4 243.5,468.8 245.5,469.1 C247.5,469.4 248.8,467.4 251.5,467.7 C254.2,468 258.2,469.7 261.4,470.7 C264.5,471.7 267.7,475.2 270.4,473.7 C273.1,472.2 274.2,463.5 277.4,461.7 C280.5,459.9 286,462.9 289.3,463.1 C292.6,463.3 295.2,462.5 297.3,462.7 C299.4,462.9 300.1,465.8 302.2,464.3 C304.3,462.8 307.1,457.2 310,453.8 C312.9,450.4 316.6,446.4 319.9,443.8 C323.2,441.2 326.6,439.7 329.9,438.4 C333.2,437.1 336.8,436.4 339.8,435.8 C342.8,435.2 345.7,434.7 347.8,434.9 C349.9,435.1 350.7,434.5 352.7,436.8 C354.7,439.1 357.2,445.2 359.7,448.8 C362.2,452.4 365,455.7 367.7,458.7 C370.4,461.7 372.6,464.5 375.6,466.7 C378.6,468.9 381.6,471.4 385.6,471.7 C389.6,472 394.5,467.9 399.5,468.3 C404.5,468.7 410.9,473.7 415.4,474.3 C419.9,474.9 423.1,474.9 426.4,471.7 C429.7,468.4 432.5,459.4 435.3,454.8 C438.1,450.2 440.3,446.1 443.3,443.8 C446.3,441.5 450.8,441.8 453.2,440.8 C455.6,439.8 455.9,438.5 458,437.8 C460.1,437.1 463.6,436.2 465.9,436.4 C468.2,436.6 469.9,436.6 471.9,438.8 C473.9,441 475.9,447 477.9,449.8 C479.9,452.6 481.8,453.7 483.8,455.7 C485.8,457.7 487.8,460.5 489.8,461.7 C491.8,462.9 492.5,461.6 495.8,463.1 C499.1,464.6 505.1,469.1 509.7,470.7 C514.3,472.3 520.3,472.9 523.6,472.7 C526.9,472.5 527.3,470.9 529.6,469.7 C531.9,468.5 534.6,466.9 537.6,465.7 C540.6,464.5 544.9,462.5 547.5,462.3 C550.1,462.1 550.9,463.4 553.5,464.7 C556.1,466 559.1,469.1 563.4,470.3 C567.7,471.5 575.1,471.4 579.4,471.7 C583.7,472 585.3,472.3 589.3,472.3 C593.3,472.3 599.1,472.7 603.2,471.7 C607.3,470.7 611.1,466.9 613.9,466.3 C616.7,465.7 616.6,467.6 619.9,468.3 C623.2,469 629.8,470.5 633.8,470.7 C637.8,470.9 641.1,471.9 643.8,469.7 C646.5,467.5 647.1,460.9 649.8,457.7 C652.4,454.5 656.7,451.4 659.7,450.4 C662.7,449.4 665.2,451.1 667.7,451.8 C670.2,452.5 672.3,455.8 674.6,454.8 C676.9,453.8 679.4,446.9 681.6,445.8 C683.8,444.7 686,448 687.6,448.4 C689.2,448.8 689.9,447.6 691.5,448.4 C693.1,449.2 694.9,452.3 697.5,453.4 C700.1,454.5 705.5,454.6 707.1,454.8" fill="none" stroke="#333399" stroke-width="1.1"/>
<line x1="569" y1="253.6" x2="756.5" y2="255.4" stroke="#c00000" stroke-width="2.1" stroke-dasharray="6.8 2.55"/>
<line x1="629" y1="290.3" x2="711.5" y2="255.3" stroke="#c00000" stroke-width="2.1" stroke-dasharray="6.8 2.55"/>
<line x1="713.2" y1="251" x2="725.6" y2="199.5" stroke="#c00000" stroke-width="2.4"/>
<polyline points="719.3,204.3 726.2,197.6 729.1,206.8" fill="none" stroke="#c00000" stroke-width="2.2" stroke-linejoin="miter"/>
<text x="4.9" y="13.2" font-family="Liberation Sans, Arial, sans-serif" font-size="8.4" fill="#333399" stroke="#333399" stroke-width="0.12" textLength="35.6" lengthAdjust="spacingAndGlyphs">MA5:4256</text>
<text x="43" y="13.2" font-family="Liberation Sans, Arial, sans-serif" font-size="8.4" fill="#ff00ff" stroke="#ff00ff" stroke-width="0.12" textLength="40.4" lengthAdjust="spacingAndGlyphs">MA10:4251</text>
<text x="86.2" y="13.2" font-family="Liberation Sans, Arial, sans-serif" font-size="8.4" fill="#808080" stroke="#808080" stroke-width="0.12" textLength="40.2" lengthAdjust="spacingAndGlyphs">MA20:4231</text>
<text x="128.6" y="13.2" font-family="Liberation Sans, Arial, sans-serif" font-size="8.4" fill="#993333" stroke="#993333" stroke-width="0.12" textLength="40.4" lengthAdjust="spacingAndGlyphs">MA60:4412</text>
<text x="171.8" y="13.2" font-family="Liberation Sans, Arial, sans-serif" font-size="8.4" fill="#2f9a6c" stroke="#2f9a6c" stroke-width="0.12" textLength="44.2" lengthAdjust="spacingAndGlyphs">MA120:4453</text>
<text x="4.5" y="317.3" font-family="Liberation Sans, Arial, sans-serif" font-size="8.4" fill="#000" stroke="#000" stroke-width="0.12" textLength="54.8" lengthAdjust="spacingAndGlyphs">MACD(12,26,9)</text>
<text x="61.4" y="317.3" font-family="Liberation Sans, Arial, sans-serif" font-size="8.4" fill="#333399" stroke="#333399" stroke-width="0.12" textLength="24.5" lengthAdjust="spacingAndGlyphs">DIF:-24</text>
<text x="89" y="317.3" font-family="Liberation Sans, Arial, sans-serif" font-size="8.4" fill="#ff00ff" stroke="#ff00ff" stroke-width="0.12" textLength="29.3" lengthAdjust="spacingAndGlyphs">DEA:-39</text>
<text x="121.1" y="317.3" font-family="Liberation Sans, Arial, sans-serif" font-size="8.4" fill="#808080" stroke="#808080" stroke-width="0.12" textLength="32.4" lengthAdjust="spacingAndGlyphs">MACD:31</text>
<text x="4.4" y="410.2" font-family="Liberation Sans, Arial, sans-serif" font-size="8.4" fill="#000" stroke="#000" stroke-width="0.12" textLength="37.8" lengthAdjust="spacingAndGlyphs">KDJ(9,3,3)</text>
<text x="44.2" y="410.2" font-family="Liberation Sans, Arial, sans-serif" font-size="8.4" fill="#333399" stroke="#333399" stroke-width="0.12" textLength="16.5" lengthAdjust="spacingAndGlyphs">K:45</text>
<text x="62.7" y="410.2" font-family="Liberation Sans, Arial, sans-serif" font-size="8.4" fill="#ff00ff" stroke="#ff00ff" stroke-width="0.12" textLength="16.5" lengthAdjust="spacingAndGlyphs">D:49</text>
<text x="81.6" y="410.2" font-family="Liberation Sans, Arial, sans-serif" font-size="8.4" fill="#808080" stroke="#808080" stroke-width="0.12" textLength="14.9" lengthAdjust="spacingAndGlyphs">J:39</text>
<text x="28.6" y="204.9" font-family="Liberation Sans, Arial, sans-serif" font-size="9.7" fill="#1a1a1a" stroke="#1a1a1a" stroke-width="0.15" textLength="18.8" lengthAdjust="spacingAndGlyphs">4388</text>
<text x="188.9" y="103.6" font-family="Liberation Sans, Arial, sans-serif" font-size="9.7" fill="#1a1a1a" stroke="#1a1a1a" stroke-width="0.15" textLength="18.9" lengthAdjust="spacingAndGlyphs">4595</text>
<text x="349.8" y="31.9" font-family="Liberation Sans, Arial, sans-serif" font-size="9.7" fill="#1a1a1a" stroke="#1a1a1a" stroke-width="0.15" textLength="18.7" lengthAdjust="spacingAndGlyphs">4786</text>
<text x="469.1" y="41.6" font-family="Liberation Sans, Arial, sans-serif" font-size="9.7" fill="#1a1a1a" stroke="#1a1a1a" stroke-width="0.15" textLength="18.7" lengthAdjust="spacingAndGlyphs">4743</text>
<text x="427.6" y="168" font-family="Liberation Sans, Arial, sans-serif" font-size="9.7" fill="#1a1a1a" stroke="#1a1a1a" stroke-width="0.15" textLength="18.7" lengthAdjust="spacingAndGlyphs">4475</text>
<text x="602.6" y="299.4" font-family="Liberation Sans, Arial, sans-serif" font-size="9.7" fill="#1a1a1a" stroke="#1a1a1a" stroke-width="0.15" textLength="18.7" lengthAdjust="spacingAndGlyphs">4148</text>
<line x1="342.5" y1="27.5" x2="349.9" y2="27.5" stroke="#111" stroke-width="1.2"/>
<polygon points="338.2,27.5 343.3,25 343.3,30" fill="#111"/>
<line x1="622.1" y1="295.2" x2="631" y2="295.2" stroke="#111" stroke-width="1.2"/>
<polygon points="634.6,295.2 629.8,292.8 629.8,297.6" fill="#111"/>
<line x1="634.5" y1="291.5" x2="634.5" y2="295" stroke="#2f852f" stroke-width="1"/>
<text font-family="Liberation Serif, Noto Serif CJK SC, serif" font-size="15.5" fill="#e00000"><tspan x="10 28.5 47 65.5 84 102.5 121" y="31.9">天然气四小时图</tspan></text>
<g transform="matrix(1 0 0 0.905 0 22.8)"><text font-family="Liberation Serif, Noto Serif CJK SC, serif" font-size="16" fill="#e00000"><tspan x="229.8 248.3 266.9 285.4 303.9 322.5 341 359.5 378 396.6 415.1 433.6 452.2 470.7 489.2 507.8" y="240.0">不管是回调下行的多头博取，还是触</tspan></text></g>
<g transform="matrix(1 0 0 0.905 0 24.7)"><text font-family="Liberation Serif, Noto Serif CJK SC, serif" font-size="16" fill="#e00000"><tspan x="229.8 248.3 266.9 285.4 303.9 322.5 341 359.5 378 396.6 415.1 433.6 452.2 470.7 489.2 507.8" y="260.5">底反弹多头趋势，反正多单是必做的</tspan></text></g>
<g transform="matrix(1 0 0 0.905 0 26.8)"><text font-family="Liberation Serif, Noto Serif CJK SC, serif" font-size="16" fill="#e00000"><tspan x="229.8 248.3 266.9" y="281.8">。关注</tspan><tspan x="285.6" y="281.8" font-family="Liberation Sans, Arial, sans-serif" font-size="16.5">4230</tspan><tspan x="321.9 340.4 358.9 377.5 396 414.5 433.1 451.6 470.1 488.7 507.2" y="281.8">一线支撑，到达点位附近</tspan></text></g>
<g transform="matrix(1 0 0 0.905 0 28.7)"><text font-family="Liberation Serif, Noto Serif CJK SC, serif" font-size="16" fill="#e00000"><tspan x="229.8 248.3 266.9 285.4 303.9" y="302.4">多单介入。</tspan></text></g></svg>
</body></html>
